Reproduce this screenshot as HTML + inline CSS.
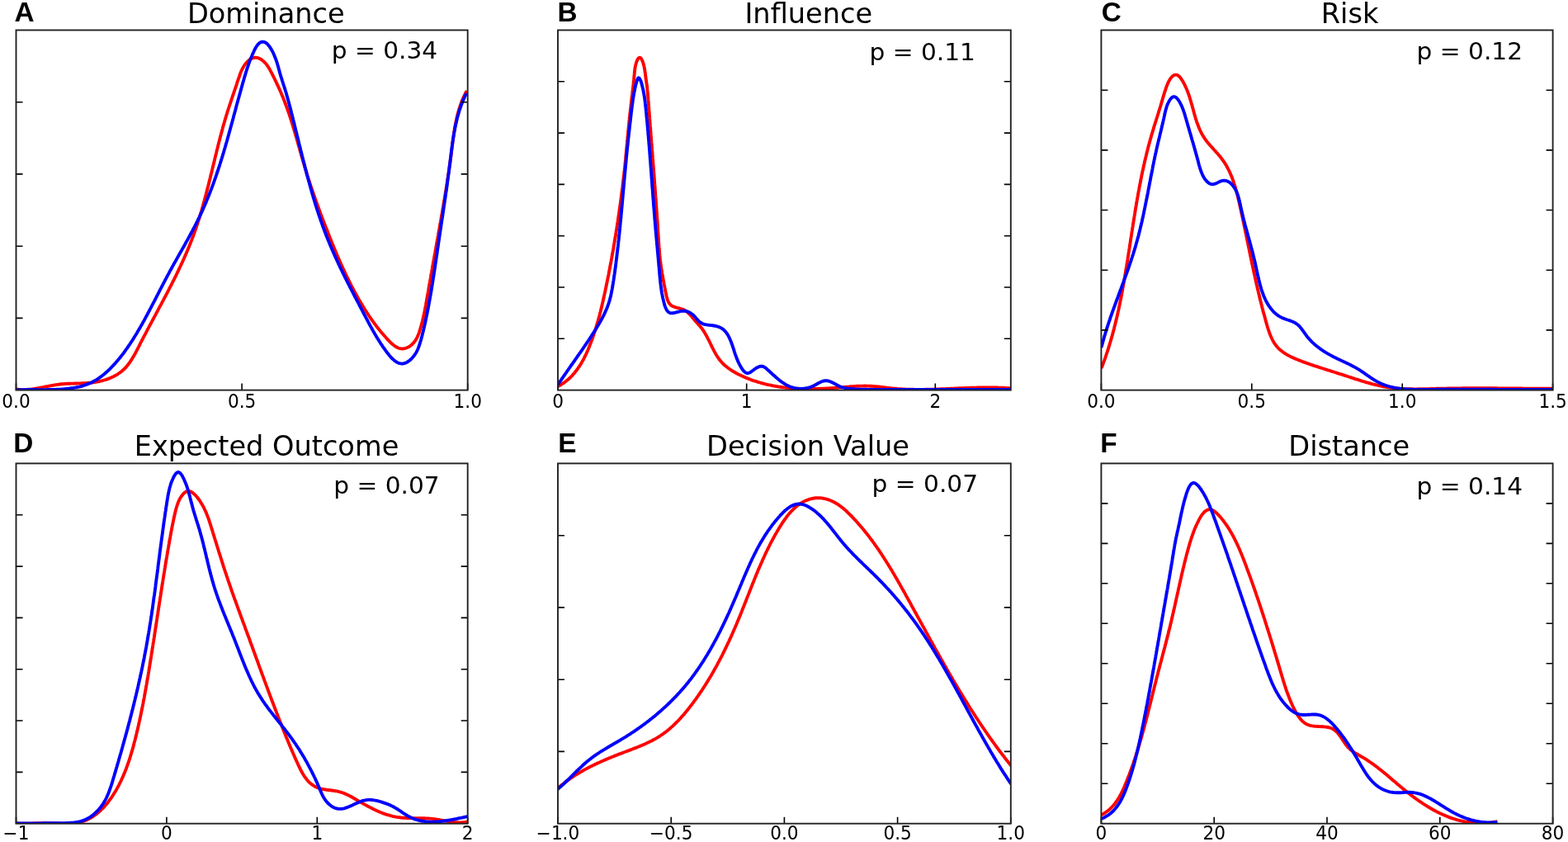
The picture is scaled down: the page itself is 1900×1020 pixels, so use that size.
<!DOCTYPE html><html><head><meta charset="utf-8"><title>Distributions</title><style>html,body{margin:0;padding:0;background:#fff;overflow:hidden}svg{display:block}.t{font-family:'DejaVu Sans','Liberation Sans',sans-serif}.l{font-family:'Liberation Sans',Arial,sans-serif;font-weight:bold}</style></head><body>
<svg width="1900" height="1020" viewBox="0 0 1900 1020">
<rect width="1900" height="1020" fill="#fff"/>
<clipPath id="cA"><rect x="19.5" y="35.5" width="547.2" height="437.1"/></clipPath>
<path d="M19.0,471.5 20.5,471.7 22.0,471.8 23.5,472.0 25.0,472.0 26.5,472.1 28.0,472.1 29.5,472.1 31.0,472.0 32.5,471.9 34.0,471.8 35.5,471.7 37.0,471.6 38.5,471.4 40.0,471.2 41.5,471.0 43.0,470.7 44.4,470.5 45.9,470.2 47.4,470.0 48.9,469.7 50.4,469.4 51.9,469.1 53.3,468.8 54.8,468.5 56.3,468.3 57.8,468.0 59.3,467.7 60.8,467.4 62.2,467.1 63.7,466.8 65.2,466.6 66.7,466.3 68.2,466.1 69.7,465.9 71.1,465.7 72.6,465.5 74.1,465.3 75.6,465.2 77.1,465.1 78.6,465.0 80.1,464.9 81.6,464.8 83.0,464.8 84.5,464.7 86.0,464.6 87.5,464.6 89.0,464.6 90.5,464.5 92.0,464.5 93.5,464.5 95.0,464.4 96.5,464.4 98.0,464.4 99.4,464.3 100.9,464.3 102.4,464.2 103.9,464.1 105.4,464.0 106.9,463.9 108.4,463.8 109.9,463.7 111.4,463.5 112.9,463.3 114.4,463.1 115.9,462.9 117.4,462.6 118.9,462.3 120.3,462.0 121.8,461.7 123.3,461.3 124.8,460.9 126.2,460.5 127.7,460.1 129.1,459.6 130.5,459.1 131.9,458.6 133.3,458.0 134.7,457.4 136.0,456.8 137.4,456.2 138.7,455.5 140.0,454.8 141.3,454.1 142.5,453.3 143.7,452.5 144.9,451.7 146.1,450.8 147.2,449.9 148.3,449.0 149.4,448.0 150.5,447.0 151.5,446.0 152.5,445.0 153.4,443.9 154.3,442.8 155.2,441.6 156.1,440.5 157.0,439.3 157.8,438.1 158.6,436.9 159.4,435.6 160.2,434.4 161.0,433.1 161.8,431.8 162.5,430.5 163.2,429.2 164.0,427.9 164.7,426.5 165.4,425.2 166.1,423.8 166.8,422.5 167.5,421.1 168.2,419.8 168.9,418.4 169.5,417.1 170.2,415.7 170.9,414.4 171.6,413.0 172.3,411.6 173.0,410.3 173.7,408.9 174.4,407.6 175.1,406.3 175.9,404.9 176.6,403.6 177.3,402.2 178.0,400.9 178.7,399.5 179.4,398.2 180.1,396.9 180.8,395.5 181.5,394.2 182.2,392.8 183.0,391.5 183.7,390.2 184.4,388.8 185.1,387.5 185.8,386.2 186.5,384.8 187.2,383.5 188.0,382.2 188.7,380.9 189.4,379.5 190.1,378.2 190.8,376.9 191.5,375.5 192.2,374.2 192.9,372.9 193.6,371.5 194.4,370.2 195.1,368.9 195.8,367.6 196.5,366.2 197.2,364.9 197.9,363.6 198.6,362.2 199.3,360.9 200.0,359.6 200.7,358.3 201.4,356.9 202.1,355.6 202.8,354.3 203.5,352.9 204.2,351.6 204.9,350.3 205.5,348.9 206.2,347.6 206.9,346.3 207.6,344.9 208.3,343.6 208.9,342.3 209.6,340.9 210.3,339.6 211.0,338.3 211.6,336.9 212.3,335.6 213.0,334.3 213.6,332.9 214.3,331.6 214.9,330.2 215.6,328.9 216.2,327.5 216.9,326.2 217.5,324.8 218.1,323.5 218.8,322.1 219.4,320.8 220.0,319.4 220.7,318.1 221.3,316.7 221.9,315.4 222.5,314.0 223.1,312.7 223.7,311.3 224.3,309.9 224.9,308.6 225.5,307.2 226.1,305.8 226.7,304.5 227.3,303.1 227.8,301.7 228.4,300.4 229.0,299.0 229.5,297.6 230.1,296.2 230.7,294.8 231.2,293.4 231.7,292.1 232.3,290.7 232.8,289.3 233.3,287.9 233.9,286.5 234.4,285.1 234.9,283.7 235.4,282.3 235.9,280.9 236.4,279.5 236.9,278.1 237.4,276.7 237.9,275.2 238.3,273.8 238.8,272.4 239.3,271.0 239.7,269.6 240.2,268.1 240.7,266.7 241.1,265.3 241.6,263.9 242.0,262.4 242.4,261.0 242.9,259.6 243.3,258.1 243.7,256.7 244.2,255.3 244.6,253.8 245.0,252.4 245.4,250.9 245.8,249.5 246.2,248.0 246.6,246.6 247.0,245.1 247.4,243.7 247.8,242.2 248.2,240.8 248.6,239.3 249.0,237.9 249.4,236.4 249.8,235.0 250.1,233.5 250.5,232.1 250.9,230.6 251.3,229.1 251.6,227.7 252.0,226.2 252.4,224.8 252.8,223.3 253.1,221.8 253.5,220.4 253.8,218.9 254.2,217.4 254.6,216.0 254.9,214.5 255.3,213.1 255.6,211.6 256.0,210.1 256.4,208.7 256.7,207.2 257.1,205.7 257.4,204.3 257.8,202.8 258.1,201.3 258.5,199.9 258.9,198.4 259.2,196.9 259.6,195.5 259.9,194.0 260.3,192.5 260.6,191.1 261.0,189.6 261.3,188.2 261.7,186.7 262.1,185.2 262.4,183.8 262.8,182.3 263.1,180.9 263.5,179.4 263.9,177.9 264.2,176.5 264.6,175.0 265.0,173.6 265.3,172.1 265.7,170.7 266.1,169.2 266.5,167.8 266.8,166.3 267.2,164.9 267.6,163.4 268.0,162.0 268.4,160.5 268.8,159.1 269.2,157.6 269.6,156.2 269.9,154.8 270.3,153.3 270.7,151.9 271.2,150.4 271.6,149.0 272.0,147.6 272.4,146.1 272.8,144.7 273.2,143.3 273.7,141.9 274.1,140.4 274.5,139.0 275.0,137.6 275.4,136.2 275.8,134.8 276.3,133.4 276.7,132.0 277.2,130.5 277.7,129.1 278.1,127.7 278.6,126.3 279.1,124.9 279.5,123.5 280.0,122.1 280.5,120.7 280.9,119.3 281.4,117.9 281.9,116.4 282.4,115.0 282.9,113.6 283.4,112.2 283.8,110.8 284.3,109.3 284.8,107.9 285.3,106.5 285.8,105.0 286.3,103.6 286.8,102.1 287.2,100.6 287.7,99.2 288.2,97.7 288.7,96.2 289.2,94.8 289.7,93.3 290.2,91.8 290.7,90.3 291.2,88.9 291.8,87.4 292.4,86.0 293.1,84.6 293.8,83.2 294.5,81.8 295.3,80.5 296.1,79.1 297.0,77.9 298.0,76.6 299.0,75.5 300.1,74.4 301.2,73.4 302.3,72.4 303.5,71.6 304.7,71.0 306.0,70.4 307.3,70.0 308.5,69.8 309.8,69.8 311.1,69.9 312.4,70.2 313.7,70.6 315.0,71.2 316.3,71.9 317.5,72.8 318.7,73.7 319.8,74.7 320.9,75.8 322.0,76.9 322.9,78.1 323.9,79.4 324.7,80.7 325.6,82.0 326.4,83.4 327.2,84.8 327.9,86.1 328.7,87.5 329.4,88.9 330.1,90.3 330.8,91.7 331.5,93.1 332.2,94.5 332.9,95.9 333.6,97.3 334.2,98.6 334.9,100.0 335.5,101.4 336.2,102.8 336.8,104.1 337.4,105.5 338.1,106.9 338.7,108.2 339.3,109.6 339.9,111.0 340.5,112.3 341.0,113.7 341.6,115.1 342.2,116.4 342.8,117.8 343.3,119.2 343.9,120.5 344.4,121.9 344.9,123.3 345.5,124.7 346.0,126.0 346.5,127.4 347.0,128.8 347.5,130.2 348.0,131.6 348.5,133.0 349.0,134.4 349.5,135.8 350.0,137.2 350.5,138.6 350.9,140.0 351.4,141.5 351.9,142.9 352.3,144.3 352.8,145.7 353.2,147.1 353.7,148.6 354.1,150.0 354.6,151.4 355.0,152.8 355.4,154.3 355.9,155.7 356.3,157.1 356.7,158.6 357.2,160.0 357.6,161.4 358.0,162.9 358.4,164.3 358.8,165.8 359.3,167.2 359.7,168.7 360.1,170.1 360.5,171.5 360.9,173.0 361.3,174.4 361.7,175.9 362.1,177.3 362.6,178.8 363.0,180.2 363.4,181.7 363.8,183.1 364.2,184.6 364.6,186.0 365.0,187.5 365.4,188.9 365.8,190.4 366.3,191.8 366.7,193.3 367.1,194.7 367.5,196.1 367.9,197.6 368.4,199.0 368.8,200.5 369.2,201.9 369.6,203.4 370.1,204.8 370.5,206.2 371.0,207.7 371.4,209.1 371.8,210.5 372.3,212.0 372.7,213.4 373.2,214.8 373.6,216.3 374.1,217.7 374.6,219.1 375.0,220.5 375.5,222.0 376.0,223.4 376.4,224.8 376.9,226.2 377.4,227.6 377.9,229.1 378.3,230.5 378.8,231.9 379.3,233.3 379.8,234.7 380.3,236.1 380.8,237.6 381.3,239.0 381.8,240.4 382.3,241.8 382.8,243.2 383.3,244.6 383.8,246.0 384.3,247.4 384.8,248.8 385.3,250.2 385.8,251.6 386.4,253.0 386.9,254.4 387.4,255.8 387.9,257.2 388.4,258.6 389.0,260.1 389.5,261.5 390.0,262.9 390.6,264.3 391.1,265.7 391.6,267.0 392.2,268.4 392.7,269.8 393.2,271.2 393.8,272.6 394.3,274.0 394.9,275.4 395.4,276.8 396.0,278.2 396.5,279.6 397.1,281.0 397.6,282.4 398.2,283.8 398.7,285.2 399.3,286.6 399.8,288.0 400.4,289.4 401.0,290.8 401.5,292.2 402.1,293.6 402.6,294.9 403.2,296.3 403.8,297.7 404.4,299.1 404.9,300.5 405.5,301.9 406.1,303.3 406.7,304.7 407.3,306.0 407.8,307.4 408.4,308.8 409.0,310.2 409.6,311.6 410.2,312.9 410.8,314.3 411.4,315.7 412.0,317.1 412.6,318.4 413.2,319.8 413.9,321.2 414.5,322.5 415.1,323.9 415.7,325.3 416.4,326.6 417.0,328.0 417.6,329.4 418.3,330.7 418.9,332.1 419.5,333.4 420.2,334.8 420.9,336.1 421.5,337.5 422.2,338.8 422.8,340.2 423.5,341.5 424.2,342.9 424.9,344.2 425.5,345.5 426.2,346.9 426.9,348.2 427.6,349.5 428.3,350.8 429.0,352.2 429.7,353.5 430.4,354.8 431.2,356.1 431.9,357.4 432.6,358.7 433.3,360.0 434.1,361.4 434.8,362.7 435.6,364.0 436.3,365.3 437.1,366.5 437.8,367.8 438.6,369.1 439.4,370.4 440.2,371.7 441.0,373.0 441.7,374.2 442.5,375.5 443.3,376.8 444.2,378.0 445.0,379.3 445.8,380.5 446.6,381.8 447.4,383.0 448.3,384.3 449.1,385.5 450.0,386.7 450.8,387.9 451.7,389.1 452.6,390.3 453.4,391.5 454.3,392.7 455.2,393.9 456.1,395.1 457.0,396.3 457.9,397.4 458.8,398.6 459.8,399.7 460.7,400.9 461.6,402.0 462.6,403.2 463.6,404.3 464.6,405.5 465.6,406.6 466.6,407.8 467.7,409.0 468.8,410.2 469.9,411.5 471.1,412.7 472.3,413.9 473.5,415.1 474.7,416.2 475.9,417.3 477.2,418.3 478.5,419.3 479.7,420.1 481.1,420.8 482.4,421.5 483.7,421.9 485.0,422.2 486.3,422.4 487.7,422.5 489.0,422.4 490.3,422.1 491.6,421.8 492.9,421.3 494.1,420.8 495.4,420.1 496.6,419.3 497.7,418.5 498.9,417.6 499.9,416.5 501.0,415.5 501.9,414.3 502.8,413.1 503.7,411.8 504.5,410.5 505.2,409.2 505.9,407.8 506.5,406.3 507.1,404.9 507.7,403.4 508.2,401.9 508.7,400.4 509.1,398.9 509.6,397.4 510.0,395.9 510.4,394.4 510.8,392.9 511.2,391.4 511.6,389.9 512.0,388.4 512.3,386.9 512.7,385.4 513.0,384.0 513.3,382.5 513.7,381.0 514.0,379.5 514.3,378.1 514.6,376.6 514.9,375.1 515.2,373.7 515.4,372.2 515.7,370.8 516.0,369.3 516.2,367.9 516.5,366.4 516.8,365.0 517.0,363.5 517.3,362.0 517.5,360.6 517.8,359.1 518.1,357.7 518.3,356.2 518.6,354.8 518.8,353.3 519.1,351.8 519.3,350.4 519.6,348.9 519.8,347.4 520.1,346.0 520.4,344.5 520.6,343.0 520.9,341.6 521.1,340.1 521.4,338.6 521.7,337.1 521.9,335.7 522.2,334.2 522.4,332.7 522.7,331.2 523.0,329.8 523.2,328.3 523.5,326.8 523.8,325.3 524.0,323.9 524.3,322.4 524.5,320.9 524.8,319.4 525.1,317.9 525.3,316.4 525.6,315.0 525.9,313.5 526.1,312.0 526.4,310.5 526.7,309.0 526.9,307.6 527.2,306.1 527.4,304.6 527.7,303.1 528.0,301.6 528.2,300.1 528.5,298.7 528.8,297.2 529.0,295.7 529.3,294.2 529.6,292.7 529.8,291.2 530.1,289.8 530.4,288.3 530.6,286.8 530.9,285.3 531.1,283.8 531.4,282.4 531.7,280.9 531.9,279.4 532.2,277.9 532.5,276.4 532.7,275.0 533.0,273.5 533.2,272.0 533.5,270.5 533.8,269.1 534.0,267.6 534.3,266.1 534.5,264.6 534.8,263.2 535.0,261.7 535.3,260.2 535.6,258.8 535.8,257.3 536.1,255.8 536.3,254.3 536.6,252.9 536.8,251.4 537.1,249.9 537.3,248.5 537.6,247.0 537.8,245.5 538.1,244.0 538.3,242.6 538.6,241.1 538.8,239.6 539.1,238.2 539.3,236.7 539.5,235.2 539.8,233.7 540.0,232.3 540.3,230.8 540.5,229.3 540.7,227.8 541.0,226.4 541.2,224.9 541.4,223.4 541.7,221.9 541.9,220.5 542.1,219.0 542.3,217.5 542.6,216.0 542.8,214.6 543.0,213.1 543.2,211.6 543.5,210.1 543.7,208.6 543.9,207.2 544.1,205.7 544.3,204.2 544.5,202.7 544.7,201.2 544.9,199.7 545.2,198.2 545.4,196.7 545.6,195.3 545.8,193.8 546.0,192.3 546.2,190.8 546.4,189.3 546.5,187.8 546.7,186.3 546.9,184.8 547.1,183.3 547.3,181.8 547.5,180.3 547.7,178.8 547.9,177.3 548.1,175.8 548.3,174.3 548.4,172.8 548.6,171.3 548.8,169.8 549.0,168.3 549.2,166.8 549.5,165.3 549.7,163.8 549.9,162.3 550.1,160.8 550.3,159.3 550.6,157.8 550.8,156.4 551.1,154.9 551.3,153.4 551.6,151.9 551.9,150.5 552.2,149.0 552.5,147.5 552.8,146.1 553.1,144.6 553.4,143.1 553.7,141.7 554.1,140.2 554.5,138.8 554.8,137.4 555.2,135.9 555.6,134.5 556.0,133.1 556.5,131.7 556.9,130.3 557.4,128.8 557.8,127.4 558.3,126.1 558.8,124.7 559.4,123.3 559.9,121.9 560.5,120.6 561.1,119.2 561.7,117.8 562.3,116.5 562.9,115.2 563.6,113.8 564.3,112.5 565.0,111.2 565.7,109.9" fill="none" stroke="#ff0000" stroke-width="3.9" stroke-linejoin="round" stroke-linecap="butt" clip-path="url(#cA)"/>
<path d="M19.0,472.4 20.5,472.3 22.0,472.3 23.5,472.2 25.0,472.2 26.5,472.1 28.0,472.1 29.5,472.1 31.0,472.1 32.5,472.0 34.0,472.0 35.5,472.0 37.0,472.0 38.5,472.0 40.0,472.0 41.5,472.0 43.0,472.0 44.5,472.0 46.0,472.1 47.5,472.1 49.0,472.1 50.5,472.1 52.0,472.1 53.5,472.1 55.0,472.1 56.5,472.1 58.0,472.0 59.5,472.0 60.9,472.0 62.4,472.0 63.9,471.9 65.4,471.9 66.9,471.9 68.5,471.8 70.0,471.7 71.5,471.7 73.0,471.6 74.5,471.5 76.0,471.4 77.5,471.3 79.0,471.1 80.5,471.0 82.0,470.9 83.5,470.7 85.0,470.5 86.5,470.3 88.0,470.1 89.5,469.8 91.0,469.6 92.4,469.3 93.9,469.0 95.4,468.7 96.8,468.3 98.2,468.0 99.7,467.6 101.1,467.1 102.5,466.7 103.9,466.2 105.3,465.7 106.7,465.2 108.0,464.6 109.4,464.0 110.7,463.4 112.0,462.7 113.3,462.0 114.6,461.3 115.9,460.6 117.2,459.8 118.4,459.0 119.6,458.2 120.9,457.3 122.1,456.4 123.3,455.6 124.4,454.6 125.6,453.7 126.8,452.7 127.9,451.8 129.0,450.8 130.2,449.8 131.3,448.7 132.4,447.7 133.5,446.6 134.5,445.5 135.6,444.4 136.6,443.3 137.7,442.2 138.7,441.1 139.7,440.0 140.7,438.8 141.7,437.7 142.7,436.5 143.7,435.4 144.6,434.2 145.6,433.0 146.5,431.8 147.4,430.6 148.4,429.5 149.3,428.3 150.2,427.1 151.1,425.8 151.9,424.6 152.8,423.4 153.7,422.2 154.6,421.0 155.4,419.7 156.2,418.5 157.1,417.3 157.9,416.0 158.7,414.8 159.5,413.5 160.4,412.3 161.2,411.0 162.0,409.8 162.7,408.5 163.5,407.2 164.3,406.0 165.1,404.7 165.9,403.4 166.6,402.1 167.4,400.8 168.1,399.6 168.9,398.3 169.6,397.0 170.4,395.7 171.1,394.4 171.9,393.1 172.6,391.8 173.3,390.5 174.0,389.2 174.8,387.9 175.5,386.6 176.2,385.2 176.9,383.9 177.6,382.6 178.3,381.3 179.0,380.0 179.7,378.7 180.4,377.3 181.1,376.0 181.8,374.7 182.5,373.4 183.2,372.0 183.9,370.7 184.6,369.4 185.3,368.0 186.0,366.7 186.7,365.4 187.4,364.1 188.1,362.7 188.7,361.4 189.4,360.1 190.1,358.7 190.8,357.4 191.5,356.0 192.2,354.7 192.9,353.4 193.5,352.0 194.2,350.7 194.9,349.4 195.6,348.0 196.3,346.7 197.0,345.4 197.7,344.0 198.4,342.7 199.1,341.4 199.8,340.0 200.5,338.7 201.2,337.4 201.9,336.1 202.6,334.7 203.3,333.4 204.0,332.1 204.7,330.8 205.4,329.4 206.1,328.1 206.9,326.8 207.6,325.5 208.3,324.2 209.0,322.9 209.8,321.5 210.5,320.2 211.2,318.9 212.0,317.6 212.7,316.3 213.4,315.0 214.2,313.7 214.9,312.4 215.6,311.1 216.4,309.7 217.1,308.4 217.9,307.1 218.6,305.8 219.3,304.5 220.1,303.2 220.8,301.9 221.6,300.6 222.3,299.3 223.0,298.0 223.8,296.7 224.5,295.3 225.2,294.0 225.9,292.7 226.7,291.4 227.4,290.1 228.1,288.8 228.8,287.5 229.6,286.2 230.3,284.8 231.0,283.5 231.7,282.2 232.4,280.9 233.1,279.6 233.8,278.2 234.5,276.9 235.2,275.6 235.9,274.3 236.6,272.9 237.3,271.6 237.9,270.3 238.6,268.9 239.3,267.6 239.9,266.2 240.6,264.9 241.3,263.6 241.9,262.2 242.6,260.9 243.2,259.5 243.8,258.2 244.5,256.8 245.1,255.4 245.7,254.1 246.3,252.7 246.9,251.3 247.5,250.0 248.1,248.6 248.7,247.2 249.3,245.9 249.9,244.5 250.4,243.1 251.0,241.7 251.6,240.3 252.2,239.0 252.7,237.6 253.3,236.2 253.8,234.8 254.4,233.4 254.9,232.0 255.4,230.6 256.0,229.2 256.5,227.8 257.0,226.4 257.6,225.0 258.1,223.6 258.6,222.2 259.1,220.8 259.6,219.4 260.1,217.9 260.6,216.5 261.1,215.1 261.6,213.7 262.1,212.3 262.6,210.9 263.0,209.4 263.5,208.0 264.0,206.6 264.5,205.2 264.9,203.7 265.4,202.3 265.9,200.9 266.3,199.5 266.8,198.0 267.2,196.6 267.7,195.2 268.1,193.7 268.6,192.3 269.0,190.9 269.5,189.4 269.9,188.0 270.3,186.5 270.8,185.1 271.2,183.7 271.6,182.2 272.0,180.8 272.5,179.3 272.9,177.9 273.3,176.5 273.7,175.0 274.1,173.6 274.6,172.1 275.0,170.7 275.4,169.2 275.8,167.8 276.2,166.3 276.6,164.9 277.0,163.4 277.4,162.0 277.8,160.5 278.2,159.1 278.6,157.6 279.0,156.2 279.4,154.7 279.8,153.3 280.2,151.8 280.6,150.4 281.0,148.9 281.4,147.5 281.8,146.0 282.2,144.6 282.6,143.2 282.9,141.7 283.3,140.3 283.7,138.8 284.1,137.4 284.5,135.9 284.9,134.5 285.3,133.0 285.7,131.6 286.1,130.1 286.4,128.7 286.8,127.2 287.2,125.8 287.6,124.4 288.0,122.9 288.4,121.5 288.8,120.0 289.2,118.6 289.6,117.2 290.0,115.7 290.4,114.3 290.8,112.9 291.2,111.4 291.6,110.0 292.0,108.6 292.4,107.1 292.8,105.7 293.2,104.3 293.6,102.8 294.0,101.4 294.4,100.0 294.8,98.6 295.2,97.2 295.6,95.7 296.0,94.3 296.4,92.9 296.9,91.5 297.3,90.1 297.7,88.7 298.1,87.2 298.6,85.8 299.0,84.4 299.5,83.0 300.0,81.5 300.5,80.1 301.0,78.6 301.5,77.2 302.0,75.7 302.6,74.2 303.1,72.7 303.7,71.3 304.3,69.7 305.0,68.2 305.6,66.7 306.3,65.1 307.0,63.6 307.7,62.0 308.4,60.5 309.2,59.0 310.0,57.5 310.9,56.2 311.7,54.9 312.6,53.8 313.6,52.8 314.5,52.0 315.5,51.3 316.6,50.9 317.6,50.7 318.7,50.6 319.8,50.8 320.9,51.2 321.9,51.7 323.0,52.5 324.0,53.4 325.0,54.5 326.0,55.7 326.9,56.9 327.8,58.3 328.7,59.8 329.5,61.2 330.3,62.7 331.1,64.2 331.8,65.7 332.4,67.2 333.0,68.7 333.6,70.2 334.2,71.7 334.7,73.2 335.2,74.7 335.7,76.1 336.1,77.6 336.6,79.1 337.0,80.6 337.4,82.1 337.8,83.5 338.2,85.0 338.6,86.4 339.0,87.9 339.4,89.3 339.8,90.8 340.2,92.2 340.7,93.6 341.1,95.0 341.6,96.4 342.0,97.8 342.5,99.2 342.9,100.6 343.4,102.0 343.8,103.4 344.3,104.8 344.7,106.2 345.2,107.6 345.6,109.0 346.0,110.4 346.5,111.8 346.9,113.3 347.3,114.7 347.7,116.1 348.1,117.6 348.5,119.0 348.9,120.4 349.3,121.9 349.7,123.3 350.1,124.8 350.5,126.2 350.9,127.7 351.3,129.2 351.6,130.6 352.0,132.1 352.4,133.5 352.8,135.0 353.1,136.5 353.5,137.9 353.9,139.4 354.2,140.8 354.6,142.3 355.0,143.8 355.3,145.2 355.7,146.7 356.1,148.1 356.4,149.6 356.8,151.1 357.1,152.5 357.5,154.0 357.9,155.5 358.2,156.9 358.6,158.4 358.9,159.8 359.3,161.3 359.7,162.8 360.0,164.2 360.4,165.7 360.7,167.1 361.1,168.6 361.5,170.0 361.8,171.5 362.2,173.0 362.5,174.4 362.9,175.9 363.3,177.3 363.6,178.8 364.0,180.2 364.3,181.7 364.7,183.2 365.1,184.6 365.4,186.1 365.8,187.5 366.1,189.0 366.5,190.4 366.9,191.9 367.2,193.3 367.6,194.8 368.0,196.2 368.4,197.7 368.7,199.1 369.1,200.6 369.5,202.0 369.8,203.5 370.2,204.9 370.6,206.4 371.0,207.8 371.4,209.3 371.7,210.7 372.1,212.2 372.5,213.6 372.9,215.1 373.3,216.5 373.7,218.0 374.1,219.4 374.5,220.8 374.9,222.3 375.3,223.7 375.7,225.2 376.1,226.6 376.5,228.0 376.9,229.5 377.3,230.9 377.7,232.3 378.1,233.8 378.5,235.2 379.0,236.7 379.4,238.1 379.8,239.5 380.2,240.9 380.7,242.4 381.1,243.8 381.5,245.2 382.0,246.7 382.4,248.1 382.9,249.5 383.3,250.9 383.8,252.4 384.2,253.8 384.7,255.2 385.2,256.6 385.6,258.1 386.1,259.5 386.6,260.9 387.0,262.3 387.5,263.7 388.0,265.1 388.5,266.6 389.0,268.0 389.5,269.4 390.0,270.8 390.5,272.2 391.0,273.6 391.5,275.0 392.0,276.4 392.5,277.8 393.1,279.2 393.6,280.7 394.1,282.1 394.7,283.5 395.2,284.9 395.8,286.3 396.3,287.7 396.9,289.0 397.4,290.4 398.0,291.8 398.6,293.2 399.1,294.6 399.7,296.0 400.3,297.4 400.9,298.8 401.5,300.2 402.1,301.6 402.7,302.9 403.3,304.3 403.9,305.7 404.5,307.1 405.1,308.5 405.7,309.8 406.3,311.2 407.0,312.6 407.6,314.0 408.2,315.3 408.9,316.7 409.5,318.1 410.1,319.5 410.8,320.8 411.4,322.2 412.1,323.6 412.7,324.9 413.4,326.3 414.1,327.6 414.7,329.0 415.4,330.3 416.0,331.7 416.7,333.1 417.4,334.4 418.0,335.8 418.7,337.1 419.4,338.5 420.1,339.8 420.7,341.2 421.4,342.5 422.1,343.8 422.8,345.2 423.5,346.5 424.1,347.9 424.8,349.2 425.5,350.5 426.2,351.9 426.9,353.2 427.6,354.5 428.3,355.8 428.9,357.2 429.6,358.5 430.3,359.8 431.0,361.1 431.7,362.5 432.4,363.8 433.1,365.1 433.8,366.4 434.5,367.7 435.1,369.0 435.8,370.3 436.5,371.7 437.2,373.0 437.9,374.3 438.6,375.6 439.3,376.9 439.9,378.2 440.6,379.5 441.3,380.8 442.0,382.1 442.7,383.4 443.3,384.6 444.0,385.9 444.7,387.2 445.4,388.5 446.1,389.8 446.8,391.1 447.4,392.4 448.1,393.7 448.8,394.9 449.5,396.2 450.3,397.5 451.0,398.8 451.7,400.1 452.4,401.4 453.2,402.7 453.9,404.0 454.7,405.3 455.4,406.6 456.2,407.9 457.0,409.2 457.8,410.5 458.6,411.8 459.4,413.1 460.3,414.4 461.1,415.8 462.0,417.1 462.9,418.4 463.8,419.8 464.7,421.1 465.7,422.4 466.6,423.8 467.6,425.1 468.6,426.5 469.6,427.8 470.6,429.1 471.7,430.4 472.8,431.7 473.8,432.9 474.9,434.0 476.0,435.1 477.2,436.1 478.3,437.1 479.5,437.9 480.6,438.6 481.8,439.3 483.0,439.8 484.2,440.2 485.4,440.4 486.6,440.6 487.9,440.5 489.1,440.3 490.4,440.0 491.6,439.6 492.8,439.0 494.1,438.3 495.3,437.4 496.5,436.5 497.6,435.5 498.7,434.5 499.8,433.3 500.8,432.1 501.8,430.8 502.7,429.5 503.6,428.2 504.4,426.9 505.1,425.5 505.8,424.1 506.4,422.7 507.0,421.2 507.5,419.8 508.1,418.3 508.5,416.9 509.0,415.4 509.4,413.9 509.9,412.4 510.3,411.0 510.7,409.5 511.1,408.0 511.5,406.5 511.8,405.1 512.2,403.6 512.6,402.2 512.9,400.7 513.3,399.2 513.6,397.8 514.0,396.3 514.3,394.9 514.6,393.4 515.0,392.0 515.3,390.5 515.6,389.1 515.9,387.6 516.2,386.1 516.5,384.7 516.8,383.2 517.1,381.8 517.4,380.3 517.7,378.9 518.0,377.4 518.3,376.0 518.6,374.5 518.8,373.0 519.1,371.6 519.4,370.1 519.7,368.6 519.9,367.2 520.2,365.7 520.5,364.2 520.7,362.8 521.0,361.3 521.2,359.8 521.5,358.4 521.8,356.9 522.0,355.4 522.3,353.9 522.5,352.5 522.8,351.0 523.0,349.5 523.2,348.0 523.5,346.5 523.7,345.1 524.0,343.6 524.2,342.1 524.4,340.6 524.7,339.1 524.9,337.6 525.1,336.2 525.4,334.7 525.6,333.2 525.8,331.7 526.1,330.2 526.3,328.7 526.5,327.2 526.7,325.7 527.0,324.3 527.2,322.8 527.4,321.3 527.6,319.8 527.8,318.3 528.1,316.8 528.3,315.3 528.5,313.8 528.7,312.3 528.9,310.9 529.2,309.4 529.4,307.9 529.6,306.4 529.8,304.9 530.0,303.4 530.2,301.9 530.5,300.4 530.7,298.9 530.9,297.5 531.1,296.0 531.3,294.5 531.5,293.0 531.8,291.5 532.0,290.0 532.2,288.5 532.4,287.1 532.6,285.6 532.9,284.1 533.1,282.6 533.3,281.1 533.5,279.7 533.7,278.2 534.0,276.7 534.2,275.2 534.4,273.7 534.6,272.3 534.8,270.8 535.1,269.3 535.3,267.8 535.5,266.3 535.7,264.9 536.0,263.4 536.2,261.9 536.4,260.4 536.6,259.0 536.8,257.5 537.1,256.0 537.3,254.5 537.5,253.0 537.7,251.6 537.9,250.1 538.2,248.6 538.4,247.1 538.6,245.7 538.8,244.2 539.0,242.7 539.3,241.2 539.5,239.7 539.7,238.3 539.9,236.8 540.1,235.3 540.3,233.8 540.5,232.4 540.8,230.9 541.0,229.4 541.2,227.9 541.4,226.4 541.6,224.9 541.8,223.5 542.0,222.0 542.2,220.5 542.4,219.0 542.6,217.5 542.8,216.0 543.0,214.5 543.2,213.1 543.4,211.6 543.6,210.1 543.8,208.6 544.0,207.1 544.2,205.6 544.4,204.1 544.6,202.6 544.8,201.1 545.0,199.6 545.2,198.1 545.4,196.6 545.5,195.1 545.7,193.6 545.9,192.1 546.1,190.6 546.3,189.1 546.5,187.6 546.7,186.1 546.8,184.6 547.0,183.1 547.2,181.6 547.4,180.1 547.6,178.6 547.8,177.1 548.0,175.6 548.2,174.1 548.4,172.6 548.7,171.1 548.9,169.6 549.1,168.2 549.3,166.7 549.6,165.2 549.8,163.7 550.1,162.2 550.3,160.7 550.6,159.3 550.9,157.8 551.1,156.3 551.4,154.8 551.7,153.4 552.0,151.9 552.3,150.5 552.7,149.0 553.0,147.6 553.3,146.1 553.7,144.7 554.0,143.2 554.4,141.8 554.8,140.4 555.2,138.9 555.6,137.5 556.0,136.1 556.4,134.7 556.9,133.3 557.3,131.9 557.8,130.5 558.3,129.1 558.8,127.7 559.3,126.3 559.8,125.0 560.4,123.6 560.9,122.2 561.5,120.9 562.1,119.5 562.7,118.2 563.3,116.9 564.0,115.5 564.6,114.2 565.3,112.9" fill="none" stroke="#0000ff" stroke-width="3.9" stroke-linejoin="round" stroke-linecap="butt" clip-path="url(#cA)"/>
<path d="M19.5,472.6V464.6M293.1,472.6V464.6M566.7,472.6V464.6M19.5,385.4H27.5M566.7,385.4H558.7M19.5,298.2H27.5M566.7,298.2H558.7M19.5,210.9H27.5M566.7,210.9H558.7M19.5,123.7H27.5M566.7,123.7H558.7" stroke="#000" stroke-width="1.6" fill="none"/>
<rect x="19.5" y="36.5" width="547.2" height="436.1" fill="none" stroke="#222" stroke-width="1.9"/>
<text transform="translate(19.5,493.7) scale(0.965,1)" text-anchor="middle" class="t" font-size="22.4">0.0</text>
<text transform="translate(293.1,493.7) scale(0.965,1)" text-anchor="middle" class="t" font-size="22.4">0.5</text>
<text transform="translate(566.7,493.7) scale(0.965,1)" text-anchor="middle" class="t" font-size="22.4">1.0</text>
<text x="322.3" y="27.8" text-anchor="middle" class="t" font-size="33.6">Dominance</text>
<text transform="translate(401.7,70.8) scale(1.022,1)" class="t" font-size="29.0">p = 0.34</text>
<text x="17.4" y="26.2" class="l" font-weight="bold" font-size="33.3">A</text>
<clipPath id="cB"><rect x="676.0" y="35.5" width="548.8" height="437.1"/></clipPath>
<path d="M675.7,468.3 677.1,467.6 678.5,466.8 679.8,466.0 681.1,465.2 682.4,464.3 683.7,463.4 684.9,462.5 686.1,461.6 687.2,460.6 688.4,459.7 689.5,458.7 690.6,457.7 691.6,456.6 692.7,455.6 693.7,454.5 694.7,453.4 695.7,452.3 696.6,451.1 697.5,450.0 698.5,448.8 699.3,447.6 700.2,446.4 701.0,445.2 701.9,444.0 702.7,442.7 703.5,441.5 704.2,440.2 705.0,438.9 705.7,437.6 706.5,436.3 707.2,435.0 707.8,433.7 708.5,432.3 709.2,431.0 709.8,429.6 710.5,428.3 711.1,426.9 711.7,425.5 712.3,424.2 712.9,422.8 713.5,421.4 714.0,420.0 714.6,418.6 715.1,417.2 715.7,415.8 716.2,414.4 716.7,413.0 717.3,411.5 717.8,410.1 718.3,408.7 718.8,407.3 719.3,405.9 719.7,404.5 720.2,403.0 720.7,401.6 721.1,400.2 721.6,398.8 722.0,397.3 722.5,395.9 722.9,394.5 723.3,393.0 723.8,391.6 724.2,390.2 724.6,388.7 725.0,387.3 725.4,385.8 725.8,384.4 726.2,382.9 726.6,381.5 726.9,380.1 727.3,378.6 727.7,377.2 728.0,375.7 728.4,374.2 728.8,372.8 729.1,371.3 729.5,369.9 729.8,368.4 730.1,367.0 730.5,365.5 730.8,364.1 731.1,362.6 731.5,361.1 731.8,359.7 732.1,358.2 732.4,356.7 732.8,355.3 733.1,353.8 733.4,352.3 733.7,350.9 734.0,349.4 734.3,348.0 734.6,346.5 734.9,345.0 735.2,343.5 735.5,342.1 735.8,340.6 736.1,339.1 736.4,337.7 736.7,336.2 737.0,334.7 737.3,333.3 737.6,331.8 737.8,330.3 738.1,328.9 738.4,327.4 738.7,325.9 739.0,324.4 739.3,323.0 739.5,321.5 739.8,320.0 740.1,318.5 740.4,317.1 740.6,315.6 740.9,314.1 741.2,312.6 741.4,311.2 741.7,309.7 742.0,308.2 742.2,306.7 742.5,305.3 742.8,303.8 743.0,302.3 743.3,300.8 743.5,299.4 743.8,297.9 744.0,296.4 744.3,294.9 744.5,293.5 744.8,292.0 745.0,290.5 745.3,289.0 745.5,287.5 745.8,286.1 746.0,284.6 746.2,283.1 746.5,281.6 746.7,280.1 747.0,278.7 747.2,277.2 747.4,275.7 747.7,274.2 747.9,272.7 748.1,271.3 748.3,269.8 748.6,268.3 748.8,266.8 749.0,265.3 749.2,263.8 749.4,262.4 749.7,260.9 749.9,259.4 750.1,257.9 750.3,256.4 750.5,254.9 750.7,253.5 750.9,252.0 751.1,250.5 751.4,249.0 751.6,247.5 751.8,246.0 752.0,244.6 752.2,243.1 752.4,241.6 752.6,240.1 752.7,238.6 752.9,237.1 753.1,235.6 753.3,234.2 753.5,232.7 753.7,231.2 753.9,229.7 754.1,228.2 754.3,226.7 754.4,225.2 754.6,223.8 754.8,222.3 755.0,220.8 755.1,219.3 755.3,217.8 755.5,216.3 755.7,214.8 755.8,213.3 756.0,211.9 756.2,210.4 756.3,208.9 756.5,207.4 756.7,205.9 756.8,204.4 757.0,202.9 757.1,201.4 757.3,200.0 757.4,198.5 757.6,197.0 757.8,195.5 757.9,194.0 758.1,192.5 758.2,191.0 758.3,189.5 758.5,188.1 758.6,186.6 758.8,185.1 758.9,183.6 759.0,182.1 759.2,180.6 759.3,179.1 759.5,177.6 759.6,176.1 759.7,174.6 759.9,173.2 760.0,171.7 760.1,170.2 760.3,168.7 760.4,167.2 760.5,165.7 760.7,164.2 760.8,162.7 761.0,161.2 761.1,159.7 761.2,158.2 761.4,156.7 761.5,155.2 761.7,153.7 761.8,152.2 762.0,150.7 762.1,149.2 762.3,147.7 762.4,146.2 762.6,144.7 762.7,143.2 762.9,141.7 763.1,140.2 763.2,138.7 763.4,137.2 763.6,135.7 763.7,134.2 763.9,132.7 764.1,131.2 764.3,129.7 764.4,128.2 764.6,126.7 764.8,125.2 764.9,123.8 765.1,122.3 765.3,120.8 765.5,119.3 765.6,117.8 765.8,116.4 766.0,114.9 766.2,113.4 766.3,112.0 766.5,110.5 766.7,109.1 766.8,107.7 767.0,106.2 767.2,104.8 767.3,103.4 767.5,101.9 767.6,100.5 767.8,99.1 767.9,97.6 768.1,96.2 768.2,94.7 768.4,93.1 768.5,91.5 768.7,89.9 768.8,88.2 769.0,86.4 769.2,84.7 769.4,82.9 769.7,81.2 770.1,79.4 770.5,77.7 771.0,76.0 771.5,74.4 772.2,72.9 772.8,71.7 773.5,70.7 774.2,70.1 774.9,69.8 775.7,69.9 776.4,70.4 777.1,71.2 777.7,72.4 778.4,73.7 779.0,75.2 779.5,76.9 780.0,78.6 780.4,80.4 780.8,82.1 781.1,83.9 781.4,85.7 781.6,87.4 781.9,89.1 782.1,90.8 782.3,92.4 782.5,93.9 782.7,95.4 782.9,96.9 783.1,98.3 783.3,99.7 783.5,101.1 783.7,102.5 783.9,103.9 784.1,105.3 784.2,106.8 784.4,108.2 784.5,109.7 784.7,111.1 784.8,112.6 784.9,114.1 785.1,115.5 785.2,117.0 785.3,118.5 785.4,120.0 785.5,121.5 785.7,123.0 785.8,124.5 785.9,126.0 786.0,127.5 786.1,129.0 786.2,130.5 786.3,132.0 786.4,133.5 786.6,135.0 786.7,136.5 786.8,138.0 786.9,139.5 787.0,141.0 787.1,142.5 787.2,144.0 787.4,145.5 787.5,147.0 787.6,148.5 787.7,150.0 787.8,151.5 787.9,153.0 788.1,154.5 788.2,156.0 788.3,157.5 788.4,159.0 788.5,160.5 788.6,162.0 788.7,163.5 788.9,165.0 789.0,166.5 789.1,168.0 789.2,169.5 789.3,171.0 789.4,172.5 789.6,174.0 789.7,175.5 789.8,177.0 789.9,178.5 790.0,180.0 790.1,181.4 790.3,182.9 790.4,184.4 790.5,185.9 790.6,187.4 790.7,188.9 790.8,190.4 790.9,191.9 791.1,193.4 791.2,194.9 791.3,196.4 791.4,197.9 791.5,199.4 791.6,200.9 791.8,202.3 791.9,203.8 792.0,205.3 792.1,206.8 792.2,208.3 792.3,209.8 792.4,211.3 792.6,212.8 792.7,214.3 792.8,215.8 792.9,217.3 793.0,218.8 793.1,220.2 793.2,221.7 793.3,223.2 793.5,224.7 793.6,226.2 793.7,227.7 793.8,229.2 793.9,230.7 794.0,232.2 794.1,233.7 794.2,235.2 794.3,236.7 794.4,238.2 794.6,239.6 794.7,241.1 794.8,242.6 794.9,244.1 795.0,245.6 795.1,247.1 795.2,248.6 795.3,250.1 795.4,251.6 795.5,253.1 795.6,254.6 795.7,256.1 795.8,257.6 795.9,259.1 796.0,260.6 796.1,262.1 796.2,263.6 796.3,265.1 796.5,266.5 796.6,268.0 796.7,269.5 796.8,271.0 796.9,272.5 797.0,274.0 797.1,275.5 797.1,277.0 797.2,278.5 797.3,280.0 797.4,281.5 797.5,283.0 797.6,284.5 797.7,286.0 797.8,287.5 797.9,289.0 798.0,290.5 798.1,292.0 798.2,293.5 798.3,295.0 798.4,296.5 798.5,298.0 798.6,299.5 798.8,301.0 798.9,302.5 799.0,304.0 799.1,305.5 799.2,307.0 799.4,308.5 799.5,310.0 799.7,311.5 799.8,312.9 800.0,314.4 800.1,315.9 800.3,317.4 800.5,318.9 800.7,320.3 800.9,321.8 801.1,323.3 801.3,324.7 801.5,326.2 801.7,327.7 802.0,329.1 802.2,330.6 802.5,332.1 802.7,333.5 803.0,335.0 803.2,336.5 803.5,337.9 803.8,339.4 804.1,340.9 804.4,342.4 804.6,343.8 804.9,345.3 805.2,346.8 805.5,348.3 805.8,349.8 806.1,351.4 806.4,352.9 806.7,354.4 807.1,356.0 807.4,357.5 807.7,359.0 808.1,360.5 808.5,362.0 808.9,363.4 809.5,364.8 810.1,366.1 810.8,367.2 811.6,368.3 812.5,369.3 813.6,370.1 814.7,370.8 816.0,371.4 817.4,371.9 818.9,372.4 820.4,372.8 821.9,373.1 823.5,373.5 825.0,374.0 826.4,374.4 827.9,375.0 829.2,375.6 830.5,376.4 831.7,377.2 832.8,378.1 833.9,379.1 835.0,380.1 836.0,381.1 837.0,382.2 838.0,383.3 838.9,384.5 839.9,385.6 840.9,386.8 841.8,388.0 842.8,389.1 843.8,390.2 844.8,391.3 845.8,392.5 846.8,393.6 847.8,394.7 848.7,395.9 849.7,397.0 850.6,398.2 851.5,399.4 852.3,400.6 853.2,401.9 854.0,403.2 854.7,404.4 855.5,405.8 856.2,407.1 856.9,408.4 857.6,409.8 858.3,411.1 859.0,412.5 859.7,413.9 860.4,415.2 861.0,416.6 861.7,418.0 862.3,419.4 863.0,420.7 863.7,422.1 864.4,423.4 865.1,424.8 865.8,426.1 866.5,427.4 867.2,428.7 868.0,430.0 868.8,431.3 869.6,432.5 870.4,433.7 871.3,434.9 872.1,436.1 873.1,437.2 874.0,438.3 875.0,439.4 876.0,440.5 877.1,441.5 878.2,442.5 879.3,443.4 880.4,444.4 881.6,445.3 882.8,446.2 884.0,447.0 885.2,447.9 886.4,448.7 887.7,449.5 889.0,450.3 890.3,451.0 891.6,451.7 892.9,452.5 894.3,453.2 895.6,453.8 897.0,454.5 898.3,455.1 899.7,455.8 901.1,456.4 902.5,457.0 903.8,457.6 905.2,458.1 906.6,458.7 908.0,459.2 909.4,459.8 910.8,460.3 912.2,460.8 913.7,461.3 915.1,461.7 916.5,462.2 917.9,462.7 919.4,463.1 920.8,463.5 922.2,463.9 923.7,464.3 925.1,464.7 926.6,465.1 928.0,465.4 929.5,465.8 930.9,466.1 932.4,466.4 933.8,466.7 935.3,467.0 936.8,467.3 938.2,467.6 939.7,467.8 941.2,468.1 942.6,468.3 944.1,468.6 945.6,468.8 947.1,469.0 948.6,469.2 950.0,469.4 951.5,469.5 953.0,469.7 954.5,469.9 956.0,470.0 957.5,470.1 958.9,470.3 960.4,470.4 961.9,470.5 963.4,470.6 964.9,470.7 966.4,470.7 967.9,470.8 969.4,470.9 970.9,470.9 972.4,471.0 973.9,471.0 975.4,471.0 976.9,471.1 978.4,471.1 979.9,471.1 981.4,471.1 982.9,471.1 984.4,471.1 985.9,471.0 987.4,471.0 988.9,471.0 990.4,470.9 991.9,470.9 993.4,470.9 994.9,470.8 996.4,470.7 997.9,470.7 999.4,470.6 1000.9,470.5 1002.4,470.4 1003.9,470.4 1005.4,470.3 1006.9,470.2 1008.4,470.1 1009.9,470.0 1011.4,469.9 1012.9,469.8 1014.4,469.7 1015.9,469.5 1017.3,469.4 1018.8,469.3 1020.3,469.2 1021.8,469.0 1023.3,468.9 1024.8,468.8 1026.3,468.7 1027.8,468.6 1029.3,468.4 1030.7,468.3 1032.2,468.2 1033.7,468.1 1035.2,468.0 1036.7,467.9 1038.2,467.8 1039.7,467.8 1041.1,467.7 1042.6,467.6 1044.1,467.6 1045.6,467.6 1047.1,467.5 1048.6,467.5 1050.0,467.6 1051.5,467.6 1053.0,467.6 1054.5,467.7 1056.0,467.8 1057.5,467.9 1059.0,468.0 1060.4,468.1 1061.9,468.2 1063.4,468.4 1064.9,468.5 1066.4,468.7 1067.9,468.9 1069.4,469.1 1070.9,469.2 1072.4,469.4 1073.8,469.6 1075.3,469.8 1076.8,469.9 1078.3,470.1 1079.8,470.3 1081.3,470.4 1082.8,470.6 1084.3,470.7 1085.8,470.8 1087.3,471.0 1088.8,471.1 1090.3,471.2 1091.8,471.3 1093.2,471.4 1094.7,471.4 1096.2,471.5 1097.7,471.6 1099.2,471.6 1100.7,471.7 1102.2,471.7 1103.7,471.8 1105.2,471.8 1106.7,471.8 1108.2,471.9 1109.7,471.9 1111.2,471.9 1112.7,471.9 1114.2,471.9 1115.7,471.9 1117.2,471.9 1118.7,471.9 1120.2,471.9 1121.7,471.8 1123.2,471.8 1124.7,471.8 1126.2,471.8 1127.7,471.7 1129.2,471.7 1130.7,471.6 1132.2,471.6 1133.7,471.5 1135.2,471.5 1136.7,471.4 1138.2,471.4 1139.7,471.3 1141.2,471.3 1142.7,471.2 1144.2,471.1 1145.7,471.1 1147.2,471.0 1148.7,470.9 1150.2,470.9 1151.7,470.8 1153.1,470.7 1154.6,470.7 1156.1,470.6 1157.6,470.5 1159.1,470.5 1160.6,470.4 1162.1,470.3 1163.6,470.3 1165.1,470.2 1166.6,470.1 1168.1,470.1 1169.6,470.0 1171.1,470.0 1172.6,469.9 1174.1,469.9 1175.6,469.8 1177.1,469.7 1178.6,469.7 1180.1,469.7 1181.6,469.6 1183.1,469.6 1184.6,469.5 1186.1,469.5 1187.6,469.5 1189.1,469.4 1190.6,469.4 1192.1,469.4 1193.6,469.4 1195.1,469.4 1196.6,469.4 1198.1,469.4 1199.6,469.4 1201.1,469.4 1202.6,469.4 1204.1,469.4 1205.6,469.5 1207.1,469.5 1208.5,469.5 1210.0,469.6 1211.5,469.6 1213.0,469.7 1214.5,469.8 1216.0,469.8 1217.5,469.9 1219.0,470.0 1220.5,470.1 1222.0,470.2 1223.5,470.3 1225.0,470.4" fill="none" stroke="#ff0000" stroke-width="3.9" stroke-linejoin="round" stroke-linecap="butt" clip-path="url(#cB)"/>
<path d="M675.9,466.2 676.8,464.9 677.6,463.7 678.5,462.4 679.3,461.2 680.2,460.0 681.0,458.7 681.9,457.5 682.7,456.2 683.6,455.0 684.4,453.8 685.3,452.5 686.1,451.3 687.0,450.1 687.8,448.8 688.7,447.6 689.5,446.4 690.4,445.2 691.3,443.9 692.1,442.7 693.0,441.5 693.8,440.3 694.7,439.0 695.6,437.8 696.4,436.6 697.3,435.4 698.1,434.1 699.0,432.9 699.8,431.7 700.7,430.5 701.6,429.2 702.4,428.0 703.3,426.8 704.1,425.6 705.0,424.3 705.8,423.1 706.7,421.9 707.5,420.6 708.4,419.4 709.2,418.2 710.0,416.9 710.9,415.7 711.7,414.4 712.6,413.2 713.4,412.0 714.2,410.7 715.0,409.5 715.9,408.2 716.7,406.9 717.5,405.7 718.3,404.4 719.1,403.2 719.9,401.9 720.8,400.6 721.6,399.4 722.4,398.1 723.1,396.8 723.9,395.5 724.7,394.2 725.5,392.9 726.2,391.6 727.0,390.3 727.7,389.0 728.5,387.7 729.2,386.4 729.9,385.1 730.6,383.7 731.3,382.4 731.9,381.1 732.6,379.7 733.2,378.4 733.8,377.0 734.4,375.6 735.0,374.3 735.6,372.9 736.1,371.5 736.6,370.1 737.1,368.7 737.6,367.3 738.0,365.9 738.5,364.5 738.9,363.0 739.2,361.6 739.6,360.2 740.0,358.7 740.3,357.3 740.6,355.8 740.9,354.3 741.2,352.9 741.5,351.4 741.8,349.9 742.0,348.5 742.3,347.0 742.5,345.5 742.8,344.0 743.0,342.5 743.2,341.0 743.5,339.6 743.7,338.1 743.9,336.6 744.1,335.1 744.3,333.6 744.6,332.1 744.8,330.6 745.0,329.2 745.2,327.7 745.4,326.2 745.6,324.7 745.8,323.2 746.0,321.7 746.2,320.2 746.4,318.7 746.5,317.3 746.7,315.8 746.9,314.3 747.1,312.8 747.3,311.3 747.5,309.8 747.6,308.3 747.8,306.8 748.0,305.3 748.2,303.8 748.3,302.4 748.5,300.9 748.7,299.4 748.9,297.9 749.0,296.4 749.2,294.9 749.3,293.4 749.5,291.9 749.7,290.4 749.8,288.9 750.0,287.4 750.1,286.0 750.3,284.5 750.5,283.0 750.6,281.5 750.8,280.0 750.9,278.5 751.1,277.0 751.2,275.5 751.4,274.0 751.5,272.5 751.6,271.0 751.8,269.5 751.9,268.1 752.1,266.6 752.2,265.1 752.4,263.6 752.5,262.1 752.6,260.6 752.8,259.1 752.9,257.6 753.1,256.1 753.2,254.6 753.3,253.1 753.5,251.6 753.6,250.2 753.7,248.7 753.9,247.2 754.0,245.7 754.1,244.2 754.3,242.7 754.4,241.2 754.5,239.7 754.7,238.2 754.8,236.7 754.9,235.2 755.1,233.7 755.2,232.3 755.3,230.8 755.5,229.3 755.6,227.8 755.7,226.3 755.9,224.8 756.0,223.3 756.1,221.8 756.3,220.3 756.4,218.8 756.5,217.3 756.7,215.9 756.8,214.4 756.9,212.9 757.1,211.4 757.2,209.9 757.4,208.4 757.5,206.9 757.6,205.4 757.8,203.9 757.9,202.5 758.0,201.0 758.2,199.5 758.3,198.0 758.5,196.5 758.6,195.0 758.8,193.5 758.9,192.0 759.0,190.6 759.2,189.1 759.3,187.6 759.5,186.1 759.6,184.6 759.8,183.1 759.9,181.6 760.1,180.1 760.2,178.7 760.4,177.2 760.6,175.7 760.7,174.2 760.9,172.7 761.0,171.2 761.2,169.7 761.3,168.2 761.5,166.7 761.7,165.3 761.8,163.8 762.0,162.3 762.2,160.8 762.3,159.3 762.5,157.8 762.7,156.3 762.8,154.8 763.0,153.3 763.2,151.7 763.3,150.2 763.5,148.7 763.7,147.2 763.9,145.7 764.0,144.2 764.2,142.7 764.4,141.1 764.6,139.6 764.7,138.1 764.9,136.6 765.1,135.1 765.3,133.6 765.5,132.1 765.6,130.6 765.8,129.2 766.0,127.7 766.2,126.3 766.4,124.9 766.6,123.6 766.7,122.2 766.9,120.9 767.1,119.5 767.3,118.2 767.6,116.8 767.8,115.4 768.1,113.9 768.3,112.4 768.7,110.8 769.0,109.1 769.4,107.3 769.8,105.4 770.2,103.5 770.7,101.5 771.2,99.7 771.7,98.0 772.2,96.6 772.8,95.4 773.3,94.6 773.9,94.3 774.5,94.5 775.0,95.1 775.6,96.2 776.2,97.5 776.7,98.9 777.2,100.5 777.7,102.1 778.1,103.8 778.5,105.5 778.9,107.1 779.3,108.8 779.6,110.4 779.9,112.0 780.2,113.5 780.5,115.1 780.7,116.7 781.0,118.2 781.2,119.7 781.4,121.2 781.6,122.7 781.8,124.2 781.9,125.7 782.1,127.2 782.3,128.7 782.4,130.1 782.6,131.6 782.7,133.1 782.9,134.6 783.0,136.0 783.2,137.5 783.3,139.0 783.4,140.5 783.6,141.9 783.7,143.4 783.9,144.9 784.0,146.4 784.1,147.8 784.3,149.3 784.4,150.8 784.5,152.3 784.7,153.8 784.8,155.2 784.9,156.7 785.1,158.2 785.2,159.7 785.3,161.2 785.4,162.7 785.6,164.1 785.7,165.6 785.8,167.1 785.9,168.6 786.1,170.1 786.2,171.6 786.3,173.1 786.4,174.6 786.6,176.0 786.7,177.5 786.8,179.0 786.9,180.5 787.0,182.0 787.2,183.5 787.3,185.0 787.4,186.5 787.5,188.0 787.6,189.4 787.7,190.9 787.8,192.4 788.0,193.9 788.1,195.4 788.2,196.9 788.3,198.4 788.4,199.9 788.5,201.4 788.6,202.9 788.8,204.4 788.9,205.9 789.0,207.4 789.1,208.9 789.2,210.4 789.3,211.9 789.4,213.4 789.5,214.9 789.6,216.3 789.8,217.8 789.9,219.3 790.0,220.8 790.1,222.3 790.2,223.8 790.3,225.3 790.4,226.8 790.5,228.3 790.7,229.8 790.8,231.3 790.9,232.8 791.0,234.3 791.1,235.8 791.2,237.3 791.3,238.8 791.4,240.3 791.6,241.8 791.7,243.3 791.8,244.8 791.9,246.3 792.0,247.8 792.1,249.3 792.2,250.8 792.4,252.3 792.5,253.8 792.6,255.3 792.7,256.8 792.8,258.3 793.0,259.8 793.1,261.3 793.2,262.8 793.3,264.3 793.4,265.8 793.6,267.3 793.7,268.8 793.8,270.3 793.9,271.8 794.1,273.3 794.2,274.8 794.3,276.3 794.4,277.8 794.6,279.3 794.7,280.8 794.8,282.3 795.0,283.8 795.1,285.3 795.2,286.7 795.4,288.2 795.5,289.7 795.6,291.2 795.8,292.7 795.9,294.2 796.0,295.7 796.2,297.2 796.3,298.7 796.5,300.2 796.6,301.7 796.7,303.2 796.9,304.7 797.0,306.2 797.1,307.6 797.3,309.1 797.4,310.6 797.5,312.1 797.7,313.6 797.8,315.1 797.9,316.5 798.1,318.0 798.2,319.5 798.3,321.0 798.5,322.4 798.6,323.9 798.7,325.4 798.8,326.9 799.0,328.3 799.1,329.8 799.2,331.3 799.3,332.7 799.5,334.2 799.6,335.7 799.7,337.1 799.9,338.6 800.0,340.1 800.2,341.6 800.3,343.0 800.5,344.5 800.7,346.0 800.9,347.5 801.1,349.0 801.3,350.5 801.5,352.0 801.8,353.5 802.0,355.1 802.3,356.6 802.6,358.1 802.9,359.7 803.2,361.2 803.6,362.8 804.0,364.4 804.4,366.0 804.8,367.6 805.2,369.2 805.7,370.7 806.3,372.2 806.9,373.6 807.5,375.0 808.3,376.2 809.1,377.2 810.0,378.1 811.0,378.7 812.1,379.2 813.4,379.4 814.7,379.3 816.1,379.2 817.6,378.8 819.2,378.4 820.8,378.0 822.4,377.6 824.0,377.2 825.6,376.9 827.1,376.7 828.6,376.7 830.1,376.8 831.6,377.0 832.9,377.4 834.3,377.9 835.6,378.6 836.9,379.3 838.1,380.2 839.3,381.1 840.5,382.1 841.6,383.3 842.7,384.5 843.7,385.7 844.8,386.9 845.9,388.1 847.0,389.2 848.2,390.2 849.4,391.0 850.6,391.7 851.9,392.3 853.3,392.8 854.7,393.1 856.1,393.4 857.6,393.6 859.0,393.8 860.5,393.9 861.9,394.1 863.4,394.3 864.8,394.5 866.2,394.7 867.6,395.0 868.9,395.4 870.2,395.8 871.5,396.3 872.7,396.8 873.9,397.4 875.1,398.1 876.2,398.9 877.2,399.8 878.2,400.8 879.1,401.8 880.0,402.9 880.9,404.1 881.7,405.3 882.4,406.6 883.2,408.0 883.8,409.4 884.5,410.8 885.1,412.3 885.7,413.7 886.3,415.2 886.8,416.8 887.4,418.3 887.9,419.8 888.4,421.3 888.9,422.8 889.4,424.3 889.8,425.8 890.3,427.2 890.7,428.6 891.2,430.0 891.7,431.3 892.2,432.7 892.7,434.0 893.2,435.3 893.7,436.6 894.3,437.9 894.9,439.2 895.6,440.6 896.3,441.9 897.0,443.3 897.9,444.8 898.7,446.2 899.6,447.5 900.6,448.8 901.6,449.9 902.7,450.9 903.8,451.6 905.0,452.0 906.2,452.1 907.4,451.8 908.7,451.2 910.0,450.5 911.3,449.5 912.7,448.5 914.0,447.5 915.4,446.5 916.8,445.6 918.2,444.9 919.6,444.2 921.0,443.8 922.3,443.6 923.6,443.7 924.9,444.1 926.1,444.7 927.3,445.4 928.5,446.3 929.6,447.4 930.8,448.4 931.9,449.5 933.1,450.5 934.2,451.6 935.4,452.7 936.5,453.7 937.7,454.7 938.8,455.8 940.0,456.8 941.1,457.8 942.3,458.8 943.4,459.7 944.6,460.7 945.8,461.6 947.0,462.5 948.2,463.3 949.4,464.1 950.6,464.9 951.8,465.7 953.1,466.4 954.4,467.0 955.6,467.7 956.9,468.2 958.3,468.8 959.6,469.2 961.0,469.7 962.4,470.0 963.8,470.3 965.2,470.6 966.7,470.8 968.2,470.9 969.7,471.0 971.2,470.9 972.7,470.9 974.2,470.7 975.8,470.5 977.3,470.3 978.8,469.9 980.3,469.5 981.8,469.1 983.2,468.5 984.7,467.9 986.1,467.2 987.5,466.5 988.9,465.8 990.2,465.0 991.5,464.3 992.9,463.6 994.2,462.9 995.5,462.3 996.8,461.8 998.1,461.5 999.4,461.2 1000.7,461.1 1002.1,461.2 1003.4,461.4 1004.8,461.8 1006.1,462.3 1007.5,462.9 1008.9,463.6 1010.3,464.3 1011.7,465.0 1013.1,465.8 1014.5,466.6 1015.9,467.3 1017.3,468.0 1018.7,468.6 1020.2,469.1 1021.6,469.5 1023.1,469.9 1024.5,470.2 1026.0,470.5 1027.4,470.7 1028.9,470.9 1030.3,471.0 1031.8,471.2 1033.3,471.3 1034.8,471.4 1036.2,471.4 1037.7,471.5 1039.2,471.6 1040.7,471.6 1042.2,471.7 1043.7,471.7 1045.2,471.8 1046.7,471.8 1048.2,471.8 1049.7,471.8 1051.2,471.9 1052.7,471.9 1054.2,471.9 1055.7,471.9 1057.2,471.9 1058.7,471.9 1060.2,471.9 1061.7,471.9 1063.2,471.9 1064.7,471.9 1066.2,471.9 1067.7,471.9 1069.2,471.9 1070.7,471.9 1072.2,471.9 1073.7,471.9 1075.2,471.9 1076.7,471.9 1078.2,471.9 1079.7,471.9 1081.2,471.9 1082.7,471.9 1084.2,471.9 1085.7,471.9 1087.2,471.9 1088.7,471.9 1090.2,471.9 1091.7,471.9 1093.2,471.9 1094.7,471.9 1096.2,471.9 1097.7,471.9 1099.2,471.9 1100.7,471.9 1102.2,471.9 1103.7,471.9 1105.2,471.9 1106.7,471.9 1108.2,471.9 1109.7,471.9 1111.2,471.9 1112.7,471.9 1114.2,471.9 1115.7,471.9 1117.2,471.9 1118.7,471.9 1120.1,471.9 1121.6,471.9 1123.1,471.9 1124.6,471.9 1126.1,471.9 1127.6,471.9 1129.1,471.9 1130.6,471.9 1132.1,471.9 1133.6,471.9 1135.1,471.9 1136.6,471.9 1138.1,471.9 1139.6,471.9 1141.1,471.9 1142.6,471.9 1144.1,471.9 1145.6,471.9 1147.1,471.9 1148.6,471.9 1150.1,471.9 1151.6,471.9 1153.1,471.9 1154.6,471.9 1156.1,471.9 1157.6,471.9 1159.1,471.9 1160.6,471.9 1162.1,471.9 1163.6,471.9 1165.1,471.9 1166.5,471.9 1168.0,471.9 1169.5,471.9 1171.0,471.9 1172.5,471.9 1174.0,471.9 1175.5,471.9 1177.0,471.9 1178.5,471.9 1180.0,471.9 1181.5,471.9 1183.0,471.9 1184.5,471.9 1186.0,471.9 1187.5,471.9 1189.0,471.9 1190.5,471.9 1192.0,471.9 1193.5,471.9 1195.0,471.9 1196.5,471.9 1198.0,471.9 1199.5,471.9 1201.0,471.9 1202.5,471.9 1204.0,471.9 1205.5,471.9 1207.0,471.9 1208.5,471.9 1210.0,471.9 1211.5,471.9 1213.0,471.9 1214.5,471.9 1216.0,471.9 1217.5,471.9 1219.0,471.9 1220.5,471.9 1222.0,471.9 1223.5,471.9 1225.0,471.9" fill="none" stroke="#0000ff" stroke-width="3.9" stroke-linejoin="round" stroke-linecap="butt" clip-path="url(#cB)"/>
<path d="M676.0,472.6V464.6M904.7,472.6V464.6M1133.3,472.6V464.6M676.0,410.3H684.0M1224.8,410.3H1216.8M676.0,348.0H684.0M1224.8,348.0H1216.8M676.0,285.7H684.0M1224.8,285.7H1216.8M676.0,223.4H684.0M1224.8,223.4H1216.8M676.0,161.1H684.0M1224.8,161.1H1216.8M676.0,98.8H684.0M1224.8,98.8H1216.8" stroke="#000" stroke-width="1.6" fill="none"/>
<rect x="676.0" y="36.5" width="548.8" height="436.1" fill="none" stroke="#222" stroke-width="1.9"/>
<text transform="translate(676.0,493.7) scale(0.965,1)" text-anchor="middle" class="t" font-size="22.4">0</text>
<text transform="translate(904.7,493.7) scale(0.965,1)" text-anchor="middle" class="t" font-size="22.4">1</text>
<text transform="translate(1133.3,493.7) scale(0.965,1)" text-anchor="middle" class="t" font-size="22.4">2</text>
<text x="979.8" y="27.8" text-anchor="middle" class="t" font-size="33.6">Influence</text>
<text transform="translate(1053.5,73.3) scale(1.022,1)" class="t" font-size="29.0">p = 0.11</text>
<text x="675.4" y="26.2" class="l" font-weight="bold" font-size="33.3">B</text>
<clipPath id="cC"><rect x="1334.4" y="35.5" width="547.2" height="437.1"/></clipPath>
<path d="M1334.6,446.1 1335.1,444.7 1335.7,443.3 1336.2,441.9 1336.7,440.5 1337.2,439.0 1337.8,437.6 1338.3,436.2 1338.8,434.8 1339.3,433.4 1339.8,432.0 1340.3,430.6 1340.7,429.1 1341.2,427.7 1341.7,426.3 1342.2,424.9 1342.6,423.4 1343.1,422.0 1343.5,420.6 1344.0,419.2 1344.4,417.7 1344.8,416.3 1345.3,414.9 1345.7,413.4 1346.1,412.0 1346.5,410.5 1346.9,409.1 1347.4,407.7 1347.8,406.2 1348.2,404.8 1348.5,403.3 1348.9,401.9 1349.3,400.4 1349.7,399.0 1350.1,397.5 1350.4,396.1 1350.8,394.6 1351.2,393.2 1351.5,391.7 1351.9,390.3 1352.2,388.8 1352.6,387.4 1352.9,385.9 1353.3,384.4 1353.6,383.0 1354.0,381.5 1354.3,380.1 1354.6,378.6 1354.9,377.1 1355.3,375.7 1355.6,374.2 1355.9,372.7 1356.2,371.3 1356.5,369.8 1356.8,368.3 1357.1,366.9 1357.4,365.4 1357.7,363.9 1358.0,362.5 1358.3,361.0 1358.6,359.5 1358.9,358.0 1359.1,356.6 1359.4,355.1 1359.7,353.6 1360.0,352.1 1360.2,350.7 1360.5,349.2 1360.8,347.7 1361.0,346.2 1361.3,344.8 1361.6,343.3 1361.8,341.8 1362.1,340.3 1362.3,338.8 1362.6,337.4 1362.9,335.9 1363.1,334.4 1363.4,332.9 1363.6,331.4 1363.9,330.0 1364.1,328.5 1364.3,327.0 1364.6,325.5 1364.8,324.0 1365.1,322.6 1365.3,321.1 1365.5,319.6 1365.8,318.1 1366.0,316.6 1366.3,315.1 1366.5,313.7 1366.7,312.2 1367.0,310.7 1367.2,309.2 1367.4,307.7 1367.6,306.2 1367.9,304.8 1368.1,303.3 1368.3,301.8 1368.6,300.3 1368.8,298.8 1369.0,297.3 1369.3,295.9 1369.5,294.4 1369.7,292.9 1369.9,291.4 1370.2,289.9 1370.4,288.4 1370.6,287.0 1370.9,285.5 1371.1,284.0 1371.3,282.5 1371.5,281.0 1371.8,279.6 1372.0,278.1 1372.2,276.6 1372.5,275.1 1372.7,273.6 1372.9,272.1 1373.2,270.7 1373.4,269.2 1373.6,267.7 1373.9,266.2 1374.1,264.7 1374.3,263.3 1374.6,261.8 1374.8,260.3 1375.1,258.8 1375.3,257.3 1375.5,255.9 1375.8,254.4 1376.0,252.9 1376.3,251.4 1376.5,249.9 1376.8,248.5 1377.0,247.0 1377.3,245.5 1377.5,244.0 1377.8,242.6 1378.0,241.1 1378.3,239.6 1378.6,238.1 1378.8,236.7 1379.1,235.2 1379.4,233.7 1379.6,232.2 1379.9,230.8 1380.2,229.3 1380.4,227.8 1380.7,226.3 1381.0,224.9 1381.3,223.4 1381.6,221.9 1381.9,220.5 1382.1,219.0 1382.4,217.5 1382.7,216.1 1383.0,214.6 1383.3,213.1 1383.6,211.7 1383.9,210.2 1384.2,208.7 1384.5,207.3 1384.9,205.8 1385.2,204.3 1385.5,202.9 1385.8,201.4 1386.1,199.9 1386.5,198.5 1386.8,197.0 1387.1,195.5 1387.5,194.1 1387.8,192.6 1388.2,191.2 1388.5,189.7 1388.9,188.2 1389.2,186.8 1389.6,185.3 1389.9,183.9 1390.3,182.4 1390.7,181.0 1391.0,179.5 1391.4,178.0 1391.8,176.6 1392.2,175.1 1392.6,173.7 1393.0,172.2 1393.4,170.8 1393.8,169.3 1394.2,167.9 1394.6,166.4 1395.0,165.0 1395.4,163.5 1395.8,162.1 1396.3,160.7 1396.7,159.2 1397.1,157.8 1397.6,156.3 1398.0,154.9 1398.4,153.4 1398.9,152.0 1399.3,150.6 1399.8,149.1 1400.2,147.7 1400.7,146.3 1401.1,144.8 1401.6,143.4 1402.0,142.0 1402.5,140.6 1402.9,139.2 1403.4,137.8 1403.8,136.4 1404.2,134.9 1404.7,133.5 1405.1,132.2 1405.5,130.8 1406.0,129.4 1406.4,128.0 1406.8,126.6 1407.2,125.2 1407.6,123.9 1408.0,122.5 1408.4,121.1 1408.8,119.7 1409.3,118.2 1409.7,116.8 1410.1,115.3 1410.6,113.7 1411.1,112.2 1411.6,110.5 1412.2,108.9 1412.7,107.2 1413.3,105.5 1413.9,103.8 1414.6,102.2 1415.3,100.6 1416.0,99.0 1416.8,97.6 1417.6,96.2 1418.5,94.9 1419.4,93.8 1420.3,92.8 1421.3,91.9 1422.3,91.3 1423.3,90.8 1424.3,90.6 1425.3,90.6 1426.3,90.8 1427.2,91.3 1428.2,92.0 1429.1,92.8 1430.1,93.9 1431.0,95.0 1431.8,96.3 1432.7,97.6 1433.5,99.0 1434.3,100.5 1435.1,101.9 1435.8,103.4 1436.5,104.9 1437.1,106.3 1437.8,107.8 1438.4,109.3 1439.0,110.7 1439.5,112.2 1440.1,113.7 1440.6,115.2 1441.1,116.6 1441.6,118.1 1442.0,119.6 1442.5,121.0 1442.9,122.5 1443.3,124.0 1443.8,125.5 1444.2,126.9 1444.6,128.4 1445.0,129.9 1445.4,131.3 1445.8,132.8 1446.2,134.3 1446.6,135.7 1447.0,137.2 1447.4,138.6 1447.8,140.1 1448.2,141.5 1448.7,143.0 1449.1,144.4 1449.6,145.8 1450.0,147.3 1450.5,148.7 1451.0,150.1 1451.6,151.5 1452.1,152.9 1452.6,154.3 1453.2,155.6 1453.8,157.0 1454.4,158.3 1455.1,159.7 1455.7,161.0 1456.4,162.3 1457.1,163.6 1457.9,164.9 1458.7,166.1 1459.5,167.3 1460.3,168.6 1461.2,169.8 1462.1,170.9 1463.0,172.1 1463.9,173.3 1464.9,174.4 1465.9,175.6 1466.9,176.7 1467.9,177.8 1468.9,178.9 1469.9,180.0 1470.9,181.2 1471.9,182.3 1472.9,183.4 1473.9,184.5 1474.9,185.6 1475.9,186.8 1476.9,187.9 1477.9,189.1 1478.8,190.2 1479.8,191.4 1480.7,192.6 1481.5,193.8 1482.4,195.0 1483.2,196.2 1484.0,197.4 1484.8,198.7 1485.6,199.9 1486.3,201.2 1487.0,202.5 1487.7,203.8 1488.4,205.1 1489.1,206.5 1489.7,207.8 1490.3,209.1 1490.9,210.5 1491.5,211.9 1492.1,213.2 1492.6,214.6 1493.2,216.0 1493.7,217.4 1494.2,218.8 1494.7,220.2 1495.2,221.6 1495.6,223.1 1496.1,224.5 1496.5,225.9 1497.0,227.4 1497.4,228.8 1497.8,230.3 1498.2,231.7 1498.6,233.2 1499.0,234.7 1499.3,236.1 1499.7,237.6 1500.1,239.1 1500.4,240.5 1500.8,242.0 1501.1,243.5 1501.5,245.0 1501.8,246.5 1502.1,247.9 1502.5,249.4 1502.8,250.9 1503.1,252.4 1503.5,253.8 1503.8,255.3 1504.1,256.8 1504.4,258.3 1504.7,259.7 1505.1,261.2 1505.4,262.7 1505.7,264.2 1506.0,265.6 1506.3,267.1 1506.6,268.6 1506.9,270.0 1507.3,271.5 1507.6,273.0 1507.9,274.4 1508.2,275.9 1508.5,277.4 1508.8,278.8 1509.1,280.3 1509.4,281.8 1509.7,283.2 1510.0,284.7 1510.3,286.1 1510.6,287.6 1510.9,289.1 1511.2,290.5 1511.5,292.0 1511.8,293.4 1512.1,294.9 1512.4,296.4 1512.7,297.8 1513.0,299.3 1513.3,300.7 1513.6,302.2 1513.9,303.7 1514.2,305.1 1514.5,306.6 1514.8,308.0 1515.1,309.5 1515.4,311.0 1515.7,312.4 1516.0,313.9 1516.3,315.3 1516.6,316.8 1516.9,318.2 1517.2,319.7 1517.6,321.2 1517.9,322.6 1518.2,324.1 1518.5,325.5 1518.8,327.0 1519.1,328.4 1519.4,329.9 1519.7,331.4 1520.1,332.8 1520.4,334.3 1520.7,335.7 1521.0,337.2 1521.3,338.6 1521.7,340.1 1522.0,341.6 1522.3,343.0 1522.6,344.5 1523.0,345.9 1523.3,347.4 1523.6,348.9 1524.0,350.3 1524.3,351.8 1524.7,353.2 1525.0,354.7 1525.4,356.2 1525.7,357.6 1526.1,359.1 1526.4,360.6 1526.8,362.0 1527.1,363.5 1527.5,364.9 1527.9,366.4 1528.2,367.9 1528.6,369.3 1529.0,370.8 1529.3,372.3 1529.7,373.7 1530.1,375.2 1530.5,376.7 1530.9,378.2 1531.3,379.6 1531.7,381.1 1532.1,382.6 1532.5,384.0 1532.9,385.5 1533.3,387.0 1533.7,388.5 1534.1,389.9 1534.5,391.4 1535.0,392.9 1535.4,394.4 1535.8,395.8 1536.3,397.3 1536.7,398.8 1537.2,400.2 1537.7,401.7 1538.2,403.1 1538.7,404.5 1539.3,405.9 1539.8,407.3 1540.4,408.6 1541.1,410.0 1541.7,411.3 1542.4,412.6 1543.1,413.9 1543.8,415.1 1544.6,416.3 1545.4,417.5 1546.3,418.6 1547.2,419.8 1548.1,420.8 1549.1,421.9 1550.1,422.9 1551.2,423.8 1552.3,424.7 1553.4,425.6 1554.6,426.5 1555.8,427.3 1557.0,428.2 1558.3,428.9 1559.5,429.7 1560.9,430.4 1562.2,431.1 1563.5,431.8 1564.9,432.5 1566.3,433.1 1567.7,433.7 1569.1,434.4 1570.5,435.0 1571.9,435.5 1573.3,436.1 1574.7,436.7 1576.2,437.2 1577.6,437.8 1579.0,438.3 1580.5,438.8 1581.9,439.3 1583.3,439.9 1584.7,440.4 1586.2,440.9 1587.6,441.4 1589.0,441.8 1590.4,442.3 1591.9,442.8 1593.3,443.3 1594.7,443.7 1596.1,444.2 1597.5,444.7 1599.0,445.1 1600.4,445.6 1601.8,446.0 1603.2,446.5 1604.6,446.9 1606.0,447.4 1607.5,447.8 1608.9,448.3 1610.3,448.7 1611.7,449.2 1613.1,449.6 1614.6,450.1 1616.0,450.5 1617.4,451.0 1618.8,451.4 1620.2,451.9 1621.7,452.3 1623.1,452.8 1624.5,453.2 1625.9,453.7 1627.4,454.1 1628.8,454.6 1630.2,455.1 1631.6,455.5 1633.1,456.0 1634.5,456.5 1635.9,456.9 1637.3,457.4 1638.8,457.9 1640.2,458.3 1641.6,458.8 1643.1,459.3 1644.5,459.7 1646.0,460.2 1647.4,460.7 1648.8,461.1 1650.3,461.6 1651.7,462.0 1653.2,462.4 1654.6,462.9 1656.0,463.3 1657.5,463.7 1658.9,464.1 1660.4,464.5 1661.8,464.9 1663.3,465.3 1664.7,465.7 1666.2,466.0 1667.7,466.4 1669.1,466.7 1670.6,467.1 1672.0,467.4 1673.5,467.7 1675.0,468.0 1676.4,468.3 1677.9,468.6 1679.4,468.8 1680.8,469.1 1682.3,469.3 1683.8,469.5 1685.3,469.7 1686.7,469.9 1688.2,470.1 1689.7,470.3 1691.2,470.4 1692.7,470.6 1694.2,470.7 1695.7,470.8 1697.1,470.9 1698.6,471.0 1700.1,471.1 1701.6,471.1 1703.1,471.2 1704.6,471.2 1706.1,471.3 1707.6,471.3 1709.1,471.3 1710.6,471.3 1712.1,471.4 1713.6,471.4 1715.1,471.4 1716.6,471.4 1718.1,471.3 1719.6,471.3 1721.1,471.3 1722.6,471.3 1724.1,471.3 1725.6,471.2 1727.1,471.2 1728.6,471.1 1730.1,471.1 1731.6,471.1 1733.2,471.0 1734.7,471.0 1736.2,470.9 1737.7,470.9 1739.2,470.9 1740.7,470.8 1742.2,470.8 1743.7,470.8 1745.2,470.7 1746.7,470.7 1748.2,470.7 1749.7,470.6 1751.2,470.6 1752.7,470.6 1754.2,470.5 1755.7,470.5 1757.2,470.5 1758.7,470.5 1760.2,470.5 1761.7,470.4 1763.2,470.4 1764.7,470.4 1766.2,470.4 1767.7,470.4 1769.2,470.4 1770.7,470.4 1772.2,470.3 1773.7,470.3 1775.2,470.3 1776.7,470.3 1778.2,470.3 1779.7,470.3 1781.2,470.3 1782.7,470.3 1784.2,470.3 1785.7,470.3 1787.2,470.3 1788.7,470.3 1790.2,470.3 1791.7,470.3 1793.2,470.3 1794.7,470.3 1796.2,470.3 1797.7,470.3 1799.2,470.3 1800.6,470.3 1802.1,470.3 1803.6,470.3 1805.1,470.3 1806.6,470.3 1808.1,470.3 1809.6,470.3 1811.1,470.3 1812.6,470.3 1814.1,470.3 1815.6,470.4 1817.1,470.4 1818.6,470.4 1820.1,470.4 1821.6,470.4 1823.1,470.4 1824.6,470.4 1826.1,470.4 1827.6,470.4 1829.1,470.4 1830.6,470.5 1832.1,470.5 1833.6,470.5 1835.1,470.5 1836.6,470.5 1838.1,470.5 1839.6,470.5 1841.1,470.5 1842.6,470.5 1844.1,470.5 1845.6,470.6 1847.1,470.6 1848.6,470.6 1850.1,470.6 1851.6,470.6 1853.1,470.6 1854.6,470.6 1856.1,470.6 1857.6,470.6 1859.1,470.6 1860.6,470.6 1862.1,470.6 1863.6,470.7 1865.1,470.7 1866.6,470.7 1868.1,470.7 1869.6,470.7 1871.1,470.7 1872.6,470.7 1874.1,470.7 1875.6,470.7 1877.1,470.7 1878.6,470.7 1880.1,470.7 1881.6,470.7" fill="none" stroke="#ff0000" stroke-width="3.9" stroke-linejoin="round" stroke-linecap="butt" clip-path="url(#cC)"/>
<path d="M1334.5,421.1 1334.9,419.6 1335.3,418.1 1335.7,416.7 1336.1,415.2 1336.5,413.8 1336.9,412.3 1337.3,410.9 1337.7,409.5 1338.1,408.0 1338.5,406.6 1339.0,405.1 1339.4,403.7 1339.8,402.3 1340.3,400.8 1340.7,399.4 1341.2,398.0 1341.6,396.5 1342.1,395.1 1342.6,393.7 1343.0,392.3 1343.5,390.8 1344.0,389.4 1344.5,388.0 1345.0,386.6 1345.4,385.2 1345.9,383.7 1346.4,382.3 1346.9,380.9 1347.4,379.5 1347.9,378.1 1348.4,376.7 1348.9,375.3 1349.4,373.9 1349.9,372.4 1350.5,371.0 1351.0,369.6 1351.5,368.2 1352.0,366.8 1352.5,365.4 1353.0,364.0 1353.6,362.6 1354.1,361.2 1354.6,359.8 1355.1,358.4 1355.6,357.0 1356.2,355.6 1356.7,354.1 1357.2,352.7 1357.7,351.3 1358.3,349.9 1358.8,348.5 1359.3,347.1 1359.8,345.7 1360.3,344.3 1360.9,342.9 1361.4,341.5 1361.9,340.1 1362.4,338.7 1362.9,337.3 1363.4,335.9 1363.9,334.5 1364.5,333.1 1365.0,331.6 1365.5,330.2 1366.0,328.8 1366.5,327.4 1367.0,326.0 1367.5,324.6 1368.0,323.2 1368.4,321.8 1368.9,320.3 1369.4,318.9 1369.9,317.5 1370.4,316.1 1370.8,314.7 1371.3,313.2 1371.8,311.8 1372.2,310.4 1372.7,309.0 1373.2,307.5 1373.6,306.1 1374.1,304.7 1374.5,303.2 1374.9,301.8 1375.4,300.4 1375.8,298.9 1376.2,297.5 1376.6,296.1 1377.0,294.6 1377.4,293.2 1377.8,291.7 1378.2,290.3 1378.6,288.8 1379.0,287.4 1379.4,285.9 1379.8,284.5 1380.1,283.0 1380.5,281.6 1380.9,280.1 1381.2,278.7 1381.6,277.2 1381.9,275.7 1382.3,274.3 1382.6,272.8 1383.0,271.4 1383.3,269.9 1383.7,268.4 1384.0,267.0 1384.3,265.5 1384.6,264.0 1385.0,262.6 1385.3,261.1 1385.6,259.6 1385.9,258.2 1386.2,256.7 1386.5,255.2 1386.8,253.7 1387.1,252.3 1387.4,250.8 1387.7,249.3 1388.0,247.8 1388.3,246.4 1388.6,244.9 1388.9,243.4 1389.2,241.9 1389.5,240.5 1389.8,239.0 1390.1,237.5 1390.4,236.0 1390.7,234.6 1391.0,233.1 1391.2,231.6 1391.5,230.1 1391.8,228.7 1392.1,227.2 1392.4,225.7 1392.7,224.2 1392.9,222.8 1393.2,221.3 1393.5,219.8 1393.8,218.3 1394.1,216.9 1394.3,215.4 1394.6,213.9 1394.9,212.5 1395.2,211.0 1395.5,209.5 1395.8,208.1 1396.1,206.6 1396.4,205.1 1396.6,203.7 1396.9,202.2 1397.2,200.7 1397.5,199.3 1397.8,197.8 1398.1,196.3 1398.4,194.9 1398.7,193.4 1399.0,192.0 1399.3,190.5 1399.6,189.1 1399.9,187.6 1400.2,186.2 1400.6,184.7 1400.9,183.3 1401.2,181.8 1401.5,180.4 1401.8,178.9 1402.2,177.5 1402.5,176.0 1402.8,174.6 1403.2,173.2 1403.5,171.7 1403.9,170.3 1404.2,168.9 1404.6,167.4 1404.9,166.0 1405.3,164.5 1405.6,163.1 1406.0,161.6 1406.3,160.2 1406.7,158.7 1407.0,157.2 1407.4,155.8 1407.7,154.3 1408.1,152.8 1408.4,151.3 1408.8,149.8 1409.1,148.3 1409.5,146.7 1409.8,145.2 1410.2,143.6 1410.5,142.1 1410.9,140.5 1411.2,138.9 1411.5,137.3 1411.9,135.7 1412.3,134.2 1412.7,132.6 1413.2,131.1 1413.6,129.5 1414.1,128.0 1414.7,126.6 1415.3,125.1 1416.0,123.8 1416.7,122.4 1417.5,121.1 1418.4,119.9 1419.3,118.9 1420.2,118.0 1421.2,117.4 1422.2,117.1 1423.2,117.2 1424.2,117.5 1425.2,118.2 1426.1,119.1 1427.1,120.2 1428.0,121.4 1428.9,122.8 1429.8,124.3 1430.6,125.9 1431.4,127.4 1432.1,129.0 1432.7,130.5 1433.3,132.0 1433.9,133.5 1434.4,135.0 1434.9,136.5 1435.4,137.9 1435.8,139.4 1436.2,140.8 1436.6,142.3 1437.1,143.7 1437.5,145.2 1437.9,146.6 1438.3,148.1 1438.7,149.5 1439.1,150.9 1439.5,152.4 1440.0,153.8 1440.4,155.3 1440.8,156.7 1441.2,158.1 1441.6,159.6 1442.1,161.0 1442.5,162.4 1442.9,163.8 1443.3,165.3 1443.7,166.7 1444.1,168.1 1444.5,169.5 1445.0,171.0 1445.4,172.4 1445.8,173.8 1446.2,175.2 1446.6,176.6 1447.0,178.0 1447.4,179.5 1447.8,180.9 1448.2,182.3 1448.6,183.7 1449.0,185.2 1449.4,186.6 1449.8,188.0 1450.2,189.5 1450.6,190.9 1451.0,192.4 1451.4,193.8 1451.8,195.3 1452.1,196.8 1452.5,198.3 1452.9,199.8 1453.4,201.3 1453.8,202.8 1454.3,204.3 1454.8,205.8 1455.3,207.3 1455.8,208.8 1456.5,210.3 1457.1,211.7 1457.8,213.2 1458.6,214.6 1459.4,216.0 1460.3,217.3 1461.3,218.5 1462.3,219.7 1463.3,220.7 1464.4,221.5 1465.6,222.2 1466.8,222.8 1468.1,223.1 1469.4,223.2 1470.8,223.1 1472.2,222.7 1473.7,222.1 1475.2,221.4 1476.7,220.6 1478.2,219.9 1479.7,219.3 1481.2,218.9 1482.6,218.8 1484.0,218.8 1485.3,218.9 1486.6,219.3 1487.8,219.8 1489.0,220.4 1490.2,221.2 1491.3,222.1 1492.3,223.1 1493.3,224.1 1494.2,225.3 1495.1,226.5 1495.9,227.7 1496.7,229.0 1497.4,230.4 1498.1,231.7 1498.7,233.1 1499.2,234.5 1499.8,236.0 1500.2,237.4 1500.7,238.9 1501.1,240.4 1501.5,241.9 1501.9,243.4 1502.2,244.9 1502.6,246.5 1502.9,248.0 1503.2,249.5 1503.6,251.1 1503.9,252.6 1504.2,254.1 1504.6,255.6 1504.9,257.1 1505.2,258.6 1505.6,260.1 1506.0,261.5 1506.3,263.0 1506.7,264.5 1507.0,265.9 1507.4,267.4 1507.8,268.8 1508.2,270.3 1508.5,271.7 1508.9,273.2 1509.3,274.6 1509.7,276.0 1510.1,277.5 1510.5,278.9 1510.9,280.3 1511.3,281.7 1511.6,283.1 1512.0,284.6 1512.4,286.0 1512.8,287.4 1513.2,288.8 1513.6,290.2 1514.0,291.6 1514.4,293.1 1514.8,294.5 1515.2,295.9 1515.6,297.3 1515.9,298.7 1516.3,300.2 1516.7,301.6 1517.1,303.0 1517.5,304.5 1517.8,305.9 1518.2,307.3 1518.6,308.8 1518.9,310.2 1519.3,311.7 1519.6,313.2 1520.0,314.6 1520.3,316.1 1520.6,317.6 1521.0,319.1 1521.3,320.6 1521.6,322.1 1522.0,323.5 1522.3,325.1 1522.6,326.6 1522.9,328.1 1523.2,329.6 1523.6,331.1 1523.9,332.6 1524.2,334.1 1524.6,335.6 1524.9,337.1 1525.3,338.6 1525.6,340.1 1526.0,341.6 1526.4,343.1 1526.8,344.5 1527.2,346.0 1527.6,347.5 1528.0,348.9 1528.4,350.3 1528.9,351.8 1529.4,353.2 1529.9,354.6 1530.4,356.0 1530.9,357.4 1531.4,358.8 1532.0,360.1 1532.6,361.4 1533.2,362.8 1533.9,364.1 1534.5,365.4 1535.2,366.6 1535.9,367.9 1536.7,369.1 1537.4,370.3 1538.2,371.5 1539.1,372.7 1539.9,373.8 1540.8,374.9 1541.8,376.0 1542.7,377.1 1543.7,378.1 1544.7,379.1 1545.8,380.0 1546.9,380.9 1548.1,381.8 1549.3,382.6 1550.5,383.4 1551.8,384.1 1553.1,384.8 1554.4,385.4 1555.8,385.9 1557.3,386.5 1558.7,387.0 1560.2,387.5 1561.6,387.9 1563.1,388.4 1564.5,389.0 1565.9,389.5 1567.3,390.1 1568.6,390.8 1569.9,391.5 1571.1,392.3 1572.3,393.2 1573.4,394.1 1574.4,395.2 1575.4,396.2 1576.4,397.4 1577.3,398.6 1578.2,399.8 1579.1,401.0 1580.0,402.3 1580.9,403.5 1581.8,404.8 1582.7,406.0 1583.6,407.3 1584.5,408.5 1585.5,409.6 1586.5,410.8 1587.5,411.9 1588.6,413.0 1589.6,414.1 1590.7,415.1 1591.8,416.1 1592.9,417.2 1594.1,418.1 1595.2,419.1 1596.4,420.0 1597.6,420.9 1598.8,421.8 1600.0,422.7 1601.2,423.6 1602.5,424.4 1603.7,425.3 1605.0,426.1 1606.3,426.9 1607.5,427.6 1608.8,428.4 1610.1,429.1 1611.5,429.9 1612.8,430.6 1614.1,431.3 1615.4,432.0 1616.8,432.7 1618.1,433.3 1619.4,434.0 1620.8,434.7 1622.1,435.3 1623.5,435.9 1624.8,436.6 1626.1,437.2 1627.5,437.8 1628.8,438.4 1630.2,439.1 1631.5,439.7 1632.8,440.3 1634.2,441.0 1635.5,441.6 1636.8,442.3 1638.1,443.0 1639.5,443.7 1640.8,444.4 1642.1,445.1 1643.4,445.8 1644.7,446.6 1646.0,447.3 1647.3,448.1 1648.6,449.0 1649.8,449.8 1651.1,450.7 1652.4,451.5 1653.6,452.4 1654.9,453.3 1656.1,454.2 1657.4,455.1 1658.7,455.9 1659.9,456.8 1661.2,457.7 1662.5,458.5 1663.8,459.4 1665.0,460.2 1666.3,460.9 1667.6,461.7 1668.9,462.4 1670.3,463.1 1671.6,463.8 1672.9,464.4 1674.3,465.0 1675.6,465.5 1677.0,466.1 1678.4,466.6 1679.8,467.0 1681.2,467.5 1682.6,467.9 1684.0,468.3 1685.4,468.6 1686.8,469.0 1688.3,469.3 1689.7,469.6 1691.1,469.9 1692.6,470.1 1694.0,470.4 1695.5,470.6 1697.0,470.8 1698.4,470.9 1699.9,471.1 1701.4,471.2 1702.9,471.4 1704.4,471.5 1705.9,471.6 1707.4,471.7 1708.9,471.7 1710.4,471.8 1711.9,471.8 1713.4,471.9 1714.9,471.9 1716.4,471.9 1717.9,472.0 1719.4,472.0 1720.9,472.0 1722.5,472.0 1724.0,472.0 1725.5,472.0 1727.0,472.0 1728.5,471.9 1730.1,471.9 1731.6,471.9 1733.1,471.9 1734.6,471.9 1736.1,471.9 1737.6,471.9 1739.1,471.9 1740.7,471.8 1742.2,471.8 1743.7,471.8 1745.2,471.8 1746.7,471.8 1748.2,471.8 1749.7,471.8 1751.2,471.8 1752.7,471.8 1754.2,471.8 1755.7,471.8 1757.2,471.8 1758.7,471.8 1760.2,471.8 1761.7,471.8 1763.2,471.8 1764.7,471.8 1766.2,471.8 1767.7,471.8 1769.2,471.8 1770.7,471.8 1772.2,471.8 1773.7,471.8 1775.2,471.8 1776.7,471.8 1778.2,471.8 1779.7,471.8 1781.2,471.8 1782.7,471.8 1784.2,471.8 1785.7,471.8 1787.2,471.8 1788.7,471.8 1790.2,471.8 1791.7,471.8 1793.2,471.8 1794.7,471.8 1796.2,471.8 1797.7,471.8 1799.2,471.8 1800.7,471.8 1802.1,471.8 1803.6,471.8 1805.1,471.8 1806.6,471.8 1808.1,471.8 1809.6,471.8 1811.1,471.8 1812.6,471.9 1814.1,471.9 1815.6,471.9 1817.1,471.9 1818.6,471.9 1820.1,471.9 1821.6,471.9 1823.1,471.9 1824.6,471.9 1826.1,471.9 1827.5,471.9 1829.0,471.9 1830.5,471.9 1832.0,471.9 1833.5,471.9 1835.0,471.9 1836.5,471.9 1838.0,471.9 1839.5,471.9 1841.0,471.9 1842.5,471.9 1844.0,471.9 1845.5,471.9 1847.0,471.9 1848.5,471.9 1850.0,471.9 1851.5,471.9 1853.0,471.9 1854.5,471.9 1856.0,471.9 1857.5,471.9 1859.0,471.9 1860.5,471.9 1862.1,471.9 1863.6,471.9 1865.1,471.9 1866.6,471.9 1868.1,471.9 1869.6,471.9 1871.1,471.9 1872.6,471.9 1874.1,471.9 1875.6,471.9 1877.2,471.9 1878.7,471.9 1880.2,471.9 1881.7,471.8" fill="none" stroke="#0000ff" stroke-width="3.9" stroke-linejoin="round" stroke-linecap="butt" clip-path="url(#cC)"/>
<path d="M1334.4,472.6V464.6M1516.8,472.6V464.6M1699.2,472.6V464.6M1881.6,472.6V464.6M1334.4,399.9H1342.4M1881.6,399.9H1873.6M1334.4,327.2H1342.4M1881.6,327.2H1873.6M1334.4,254.5H1342.4M1881.6,254.5H1873.6M1334.4,181.9H1342.4M1881.6,181.9H1873.6M1334.4,109.2H1342.4M1881.6,109.2H1873.6" stroke="#000" stroke-width="1.6" fill="none"/>
<rect x="1334.4" y="36.5" width="547.2" height="436.1" fill="none" stroke="#222" stroke-width="1.9"/>
<text transform="translate(1334.4,493.7) scale(0.965,1)" text-anchor="middle" class="t" font-size="22.4">0.0</text>
<text transform="translate(1516.8,493.7) scale(0.965,1)" text-anchor="middle" class="t" font-size="22.4">0.5</text>
<text transform="translate(1699.2,493.7) scale(0.965,1)" text-anchor="middle" class="t" font-size="22.4">1.0</text>
<text transform="translate(1881.6,493.7) scale(0.965,1)" text-anchor="middle" class="t" font-size="22.4">1.5</text>
<text x="1635.6" y="27.8" text-anchor="middle" class="t" font-size="33.6">Risk</text>
<text transform="translate(1716.6,71.7) scale(1.022,1)" class="t" font-size="29.0">p = 0.12</text>
<text x="1334.8" y="26.2" class="l" font-weight="bold" font-size="33.3">C</text>
<clipPath id="cD"><rect x="19.5" y="560.4" width="547.2" height="437.3"/></clipPath>
<path d="M19.4,997.3 21.0,997.4 22.6,997.5 24.2,997.6 25.7,997.6 27.3,997.7 28.8,997.7 30.3,997.7 31.8,997.7 33.3,997.7 34.8,997.6 36.3,997.6 37.7,997.6 39.2,997.5 40.6,997.5 42.0,997.4 43.5,997.4 44.9,997.3 46.3,997.2 47.8,997.2 49.2,997.1 50.6,997.1 52.1,997.1 53.5,997.0 55.0,997.0 56.5,997.0 58.0,997.0 59.5,997.0 61.0,997.0 62.5,997.1 64.0,997.1 65.6,997.2 67.1,997.3 68.7,997.3 70.3,997.4 71.9,997.5 73.4,997.5 75.0,997.6 76.6,997.6 78.2,997.6 79.7,997.6 81.3,997.6 82.9,997.6 84.4,997.6 86.0,997.5 87.5,997.4 89.1,997.3 90.6,997.1 92.1,996.9 93.6,996.7 95.0,996.4 96.5,996.1 97.9,995.7 99.3,995.3 100.7,994.9 102.1,994.4 103.4,993.9 104.7,993.3 106.1,992.8 107.4,992.1 108.6,991.5 109.9,990.8 111.1,990.0 112.3,989.3 113.5,988.5 114.7,987.7 115.9,986.8 117.1,985.9 118.2,985.0 119.3,984.1 120.4,983.1 121.5,982.1 122.5,981.1 123.6,980.1 124.6,979.0 125.6,978.0 126.6,976.9 127.6,975.8 128.6,974.6 129.6,973.5 130.5,972.3 131.4,971.1 132.3,969.9 133.2,968.7 134.1,967.5 134.9,966.3 135.8,965.0 136.6,963.8 137.4,962.5 138.2,961.2 139.0,960.0 139.8,958.7 140.6,957.4 141.3,956.1 142.0,954.8 142.8,953.5 143.5,952.1 144.2,950.8 144.8,949.5 145.5,948.1 146.2,946.8 146.8,945.5 147.4,944.1 148.1,942.7 148.7,941.4 149.3,940.0 149.9,938.6 150.4,937.3 151.0,935.9 151.6,934.5 152.1,933.1 152.7,931.7 153.2,930.3 153.7,928.9 154.2,927.5 154.7,926.1 155.2,924.7 155.7,923.3 156.2,921.9 156.7,920.4 157.1,919.0 157.6,917.6 158.0,916.2 158.5,914.7 158.9,913.3 159.3,911.9 159.7,910.4 160.2,909.0 160.6,907.5 161.0,906.1 161.4,904.7 161.8,903.2 162.2,901.8 162.5,900.3 162.9,898.9 163.3,897.4 163.7,896.0 164.0,894.5 164.4,893.1 164.8,891.6 165.1,890.1 165.5,888.7 165.8,887.2 166.2,885.8 166.5,884.3 166.9,882.9 167.2,881.4 167.5,880.0 167.9,878.5 168.2,877.0 168.5,875.6 168.8,874.1 169.2,872.7 169.5,871.2 169.8,869.7 170.1,868.3 170.4,866.8 170.7,865.3 171.0,863.9 171.3,862.4 171.6,860.9 171.9,859.5 172.2,858.0 172.5,856.5 172.8,855.1 173.1,853.6 173.4,852.1 173.6,850.7 173.9,849.2 174.2,847.7 174.5,846.3 174.8,844.8 175.0,843.3 175.3,841.9 175.6,840.4 175.8,838.9 176.1,837.4 176.4,836.0 176.6,834.5 176.9,833.0 177.1,831.6 177.4,830.1 177.7,828.6 177.9,827.1 178.2,825.7 178.4,824.2 178.7,822.7 178.9,821.2 179.2,819.8 179.4,818.3 179.7,816.8 179.9,815.3 180.2,813.8 180.4,812.4 180.6,810.9 180.9,809.4 181.1,807.9 181.4,806.4 181.6,805.0 181.8,803.5 182.1,802.0 182.3,800.5 182.6,799.0 182.8,797.6 183.0,796.1 183.3,794.6 183.5,793.1 183.7,791.6 184.0,790.2 184.2,788.7 184.4,787.2 184.7,785.7 184.9,784.2 185.1,782.7 185.4,781.3 185.6,779.8 185.8,778.3 186.1,776.8 186.3,775.3 186.5,773.8 186.8,772.3 187.0,770.9 187.2,769.4 187.4,767.9 187.7,766.4 187.9,764.9 188.1,763.4 188.3,762.0 188.6,760.5 188.8,759.0 189.0,757.5 189.3,756.0 189.5,754.5 189.7,753.0 189.9,751.6 190.2,750.1 190.4,748.6 190.6,747.1 190.8,745.6 191.1,744.1 191.3,742.6 191.5,741.2 191.7,739.7 192.0,738.2 192.2,736.7 192.4,735.2 192.7,733.7 192.9,732.3 193.1,730.8 193.3,729.3 193.6,727.8 193.8,726.3 194.0,724.8 194.3,723.4 194.5,721.9 194.7,720.4 194.9,718.9 195.2,717.4 195.4,715.9 195.6,714.5 195.9,713.0 196.1,711.5 196.3,710.0 196.6,708.5 196.8,707.1 197.0,705.6 197.3,704.1 197.5,702.6 197.7,701.1 198.0,699.7 198.2,698.2 198.4,696.7 198.7,695.2 198.9,693.7 199.2,692.3 199.4,690.8 199.6,689.3 199.9,687.8 200.1,686.4 200.4,684.9 200.6,683.4 200.8,681.9 201.1,680.5 201.3,679.0 201.6,677.5 201.8,676.1 202.1,674.6 202.3,673.1 202.6,671.6 202.8,670.2 203.1,668.7 203.3,667.2 203.6,665.8 203.8,664.3 204.1,662.8 204.3,661.4 204.6,659.9 204.9,658.4 205.1,657.0 205.4,655.5 205.6,654.0 205.9,652.6 206.2,651.1 206.4,649.6 206.7,648.2 207.0,646.7 207.2,645.3 207.5,643.8 207.8,642.3 208.1,640.9 208.3,639.4 208.6,638.0 208.9,636.5 209.2,635.0 209.5,633.5 209.8,632.1 210.1,630.6 210.4,629.1 210.7,627.6 211.1,626.1 211.4,624.6 211.7,623.1 212.1,621.6 212.5,620.1 212.8,618.5 213.2,617.0 213.6,615.5 214.1,614.0 214.5,612.4 215.1,610.9 215.6,609.4 216.2,607.9 216.9,606.4 217.6,604.9 218.4,603.4 219.3,602.0 220.2,600.6 221.2,599.4 222.2,598.2 223.2,597.2 224.3,596.3 225.4,595.6 226.5,595.2 227.6,595.0 228.8,595.0 229.9,595.2 231.0,595.6 232.1,596.1 233.3,596.9 234.4,597.7 235.4,598.6 236.5,599.7 237.6,600.8 238.6,602.0 239.6,603.3 240.5,604.5 241.5,605.8 242.3,607.1 243.2,608.4 244.0,609.7 244.8,611.1 245.6,612.4 246.3,613.7 247.0,615.1 247.7,616.5 248.3,617.8 249.0,619.2 249.6,620.6 250.2,622.0 250.7,623.4 251.3,624.8 251.8,626.2 252.4,627.6 252.9,629.1 253.4,630.5 253.8,631.9 254.3,633.3 254.8,634.8 255.2,636.2 255.7,637.7 256.1,639.1 256.6,640.5 257.0,642.0 257.5,643.4 257.9,644.8 258.4,646.3 258.8,647.7 259.2,649.2 259.7,650.6 260.1,652.0 260.6,653.5 261.0,654.9 261.5,656.3 261.9,657.8 262.3,659.2 262.8,660.6 263.2,662.0 263.7,663.5 264.1,664.9 264.6,666.3 265.0,667.8 265.5,669.2 265.9,670.6 266.4,672.0 266.8,673.5 267.3,674.9 267.7,676.3 268.2,677.7 268.6,679.2 269.1,680.6 269.5,682.0 270.0,683.4 270.4,684.8 270.9,686.3 271.4,687.7 271.8,689.1 272.3,690.5 272.7,691.9 273.2,693.4 273.7,694.8 274.2,696.2 274.6,697.6 275.1,699.0 275.6,700.5 276.1,701.9 276.5,703.3 277.0,704.7 277.5,706.1 278.0,707.5 278.5,708.9 279.0,710.3 279.5,711.8 279.9,713.2 280.4,714.6 280.9,716.0 281.4,717.4 281.9,718.8 282.4,720.2 282.9,721.6 283.4,723.0 283.9,724.5 284.4,725.9 285.0,727.3 285.5,728.7 286.0,730.1 286.5,731.5 287.0,732.9 287.5,734.3 288.0,735.7 288.5,737.1 289.0,738.5 289.6,739.9 290.1,741.4 290.6,742.8 291.1,744.2 291.6,745.6 292.1,747.0 292.7,748.4 293.2,749.8 293.7,751.2 294.2,752.6 294.7,754.0 295.3,755.4 295.8,756.8 296.3,758.2 296.8,759.6 297.3,761.1 297.8,762.5 298.4,763.9 298.9,765.3 299.4,766.7 299.9,768.1 300.4,769.5 301.0,770.9 301.5,772.3 302.0,773.7 302.5,775.1 303.0,776.6 303.5,778.0 304.0,779.4 304.6,780.8 305.1,782.2 305.6,783.6 306.1,785.0 306.6,786.4 307.1,787.8 307.6,789.2 308.2,790.7 308.7,792.1 309.2,793.5 309.7,794.9 310.2,796.3 310.7,797.7 311.2,799.1 311.8,800.5 312.3,801.9 312.8,803.3 313.3,804.8 313.8,806.2 314.3,807.6 314.8,809.0 315.4,810.4 315.9,811.8 316.4,813.2 316.9,814.6 317.4,816.0 317.9,817.4 318.5,818.9 319.0,820.3 319.5,821.7 320.0,823.1 320.5,824.5 321.1,825.9 321.6,827.3 322.1,828.7 322.6,830.1 323.1,831.5 323.7,832.9 324.2,834.3 324.7,835.7 325.2,837.1 325.7,838.5 326.3,839.9 326.8,841.3 327.3,842.7 327.9,844.2 328.4,845.6 328.9,847.0 329.4,848.4 330.0,849.8 330.5,851.2 331.0,852.6 331.6,854.0 332.1,855.4 332.6,856.8 333.2,858.2 333.7,859.5 334.2,860.9 334.8,862.3 335.3,863.7 335.8,865.1 336.4,866.5 336.9,867.9 337.5,869.3 338.0,870.7 338.6,872.1 339.1,873.5 339.7,874.9 340.2,876.3 340.8,877.7 341.3,879.0 341.9,880.4 342.4,881.8 343.0,883.2 343.5,884.6 344.1,886.0 344.6,887.4 345.2,888.7 345.8,890.1 346.3,891.5 346.9,892.9 347.4,894.3 348.0,895.6 348.6,897.0 349.2,898.4 349.7,899.8 350.3,901.2 350.9,902.5 351.4,903.9 352.0,905.3 352.6,906.7 353.2,908.0 353.8,909.4 354.4,910.8 355.0,912.2 355.6,913.5 356.2,914.9 356.8,916.3 357.4,917.7 358.0,919.1 358.6,920.5 359.3,921.9 359.9,923.2 360.5,924.6 361.2,926.0 361.8,927.4 362.5,928.8 363.1,930.2 363.8,931.6 364.5,933.0 365.2,934.3 366.0,935.7 366.7,937.0 367.5,938.3 368.3,939.6 369.1,940.8 370.0,942.0 370.9,943.2 371.8,944.4 372.7,945.5 373.7,946.6 374.7,947.6 375.7,948.6 376.8,949.5 378.0,950.4 379.1,951.2 380.3,952.0 381.6,952.7 382.9,953.4 384.2,954.0 385.6,954.5 387.0,955.0 388.4,955.4 389.8,955.7 391.3,956.0 392.8,956.3 394.3,956.5 395.8,956.8 397.3,957.0 398.8,957.2 400.3,957.3 401.8,957.5 403.3,957.7 404.8,957.9 406.3,958.2 407.8,958.4 409.2,958.7 410.7,959.1 412.1,959.4 413.5,959.9 415.0,960.3 416.3,960.8 417.7,961.4 419.1,962.0 420.4,962.6 421.8,963.2 423.1,963.9 424.4,964.6 425.8,965.3 427.1,966.0 428.4,966.8 429.7,967.5 431.0,968.3 432.3,969.0 433.6,969.8 434.9,970.6 436.2,971.3 437.5,972.1 438.9,972.9 440.2,973.6 441.5,974.4 442.8,975.1 444.1,975.8 445.4,976.5 446.8,977.2 448.1,977.9 449.4,978.6 450.8,979.3 452.1,980.0 453.5,980.6 454.8,981.3 456.2,981.9 457.5,982.5 458.9,983.1 460.3,983.7 461.6,984.2 463.0,984.8 464.4,985.3 465.8,985.8 467.2,986.3 468.6,986.8 470.0,987.2 471.4,987.6 472.8,988.0 474.2,988.4 475.7,988.8 477.1,989.1 478.5,989.4 480.0,989.7 481.5,989.9 482.9,990.1 484.4,990.3 485.9,990.5 487.4,990.6 488.8,990.7 490.3,990.8 491.8,990.9 493.3,991.0 494.8,991.0 496.4,991.1 497.9,991.1 499.4,991.1 500.9,991.1 502.4,991.2 503.9,991.2 505.5,991.2 507.0,991.2 508.5,991.2 510.0,991.2 511.5,991.2 513.1,991.3 514.6,991.3 516.1,991.4 517.6,991.4 519.1,991.5 520.6,991.6 522.1,991.8 523.6,991.9 525.1,992.1 526.6,992.3 528.1,992.5 529.5,992.7 531.0,992.9 532.5,993.2 533.9,993.5 535.4,993.7 536.9,994.0 538.3,994.3 539.8,994.5 541.3,994.8 542.7,995.0 544.2,995.3 545.7,995.5 547.1,995.7 548.6,995.9 550.1,996.0 551.6,996.2 553.1,996.3 554.6,996.4 556.1,996.4 557.6,996.4 559.1,996.4 560.6,996.3 562.1,996.2 563.7,996.0 565.2,995.8 566.8,995.6" fill="none" stroke="#ff0000" stroke-width="3.9" stroke-linejoin="round" stroke-linecap="butt" clip-path="url(#cD)"/>
<path d="M19.4,997.3 21.0,997.4 22.5,997.4 24.0,997.5 25.6,997.5 27.1,997.5 28.6,997.5 30.1,997.5 31.6,997.5 33.1,997.5 34.6,997.5 36.1,997.5 37.6,997.5 39.1,997.5 40.6,997.5 42.0,997.5 43.5,997.5 45.0,997.4 46.5,997.4 47.9,997.4 49.4,997.4 50.9,997.3 52.4,997.3 53.9,997.3 55.3,997.2 56.8,997.2 58.3,997.2 59.8,997.2 61.3,997.2 62.8,997.1 64.3,997.1 65.8,997.1 67.3,997.1 68.8,997.1 70.3,997.1 71.9,997.1 73.4,997.1 74.9,997.1 76.5,997.1 78.0,997.1 79.5,997.1 81.1,997.0 82.6,997.0 84.1,996.9 85.6,996.8 87.1,996.7 88.6,996.6 90.1,996.4 91.6,996.2 93.1,996.0 94.6,995.7 96.0,995.4 97.4,995.0 98.8,994.6 100.2,994.2 101.6,993.7 103.0,993.1 104.3,992.5 105.6,991.8 106.9,991.1 108.2,990.4 109.4,989.6 110.6,988.8 111.8,987.9 113.0,987.0 114.2,986.0 115.3,985.0 116.4,984.0 117.4,982.9 118.5,981.9 119.5,980.7 120.5,979.6 121.4,978.4 122.4,977.2 123.3,976.0 124.1,974.8 125.0,973.5 125.8,972.3 126.5,971.0 127.3,969.7 128.0,968.4 128.7,967.0 129.3,965.7 129.9,964.3 130.5,963.0 131.1,961.6 131.7,960.2 132.2,958.8 132.7,957.4 133.2,956.0 133.7,954.6 134.2,953.2 134.7,951.8 135.1,950.4 135.6,948.9 136.0,947.5 136.5,946.1 136.9,944.6 137.3,943.2 137.7,941.7 138.2,940.3 138.6,938.9 139.0,937.4 139.5,936.0 139.9,934.5 140.3,933.1 140.7,931.7 141.1,930.2 141.6,928.8 142.0,927.3 142.4,925.9 142.8,924.5 143.3,923.0 143.7,921.6 144.1,920.1 144.5,918.7 144.9,917.3 145.3,915.8 145.7,914.4 146.2,912.9 146.6,911.5 147.0,910.0 147.4,908.6 147.8,907.2 148.2,905.7 148.6,904.3 149.0,902.8 149.4,901.4 149.8,899.9 150.2,898.5 150.6,897.0 151.0,895.6 151.4,894.2 151.8,892.7 152.2,891.3 152.6,889.8 153.0,888.4 153.4,886.9 153.8,885.5 154.2,884.0 154.6,882.6 155.0,881.1 155.3,879.7 155.7,878.2 156.1,876.8 156.5,875.3 156.9,873.9 157.3,872.4 157.6,871.0 158.0,869.5 158.4,868.1 158.8,866.6 159.1,865.2 159.5,863.7 159.9,862.3 160.2,860.8 160.6,859.4 161.0,857.9 161.3,856.5 161.7,855.0 162.1,853.6 162.4,852.1 162.8,850.6 163.1,849.2 163.5,847.7 163.8,846.3 164.2,844.8 164.5,843.4 164.9,841.9 165.2,840.4 165.6,839.0 165.9,837.5 166.3,836.1 166.6,834.6 166.9,833.2 167.3,831.7 167.6,830.2 167.9,828.8 168.3,827.3 168.6,825.9 168.9,824.4 169.2,822.9 169.6,821.5 169.9,820.0 170.2,818.5 170.5,817.1 170.8,815.6 171.2,814.2 171.5,812.7 171.8,811.2 172.1,809.8 172.4,808.3 172.7,806.8 173.0,805.4 173.3,803.9 173.6,802.4 173.9,801.0 174.2,799.5 174.5,798.0 174.8,796.6 175.0,795.1 175.3,793.6 175.6,792.1 175.9,790.7 176.2,789.2 176.5,787.7 176.7,786.3 177.0,784.8 177.3,783.3 177.5,781.8 177.8,780.4 178.1,778.9 178.3,777.4 178.6,775.9 178.8,774.5 179.1,773.0 179.3,771.5 179.6,770.0 179.8,768.6 180.1,767.1 180.3,765.6 180.6,764.1 180.8,762.6 181.1,761.2 181.3,759.7 181.5,758.2 181.8,756.7 182.0,755.2 182.2,753.8 182.5,752.3 182.7,750.8 182.9,749.3 183.1,747.8 183.4,746.4 183.6,744.9 183.8,743.4 184.0,741.9 184.2,740.4 184.5,739.0 184.7,737.5 184.9,736.0 185.1,734.5 185.3,733.0 185.5,731.5 185.7,730.0 185.9,728.6 186.1,727.1 186.3,725.6 186.5,724.1 186.7,722.6 187.0,721.1 187.2,719.7 187.4,718.2 187.6,716.7 187.8,715.2 188.0,713.7 188.2,712.2 188.4,710.7 188.5,709.3 188.7,707.8 188.9,706.3 189.1,704.8 189.3,703.3 189.5,701.8 189.7,700.3 189.9,698.9 190.1,697.4 190.3,695.9 190.5,694.4 190.7,692.9 190.9,691.4 191.1,689.9 191.3,688.5 191.4,687.0 191.6,685.5 191.8,684.0 192.0,682.5 192.2,681.0 192.4,679.5 192.6,678.0 192.8,676.6 193.0,675.1 193.2,673.6 193.4,672.1 193.5,670.6 193.7,669.1 193.9,667.7 194.1,666.2 194.3,664.7 194.5,663.2 194.7,661.7 194.9,660.2 195.1,658.7 195.3,657.3 195.5,655.8 195.7,654.3 195.9,652.8 196.1,651.3 196.3,649.9 196.5,648.4 196.7,646.9 196.9,645.4 197.1,643.9 197.3,642.4 197.5,641.0 197.7,639.5 197.9,638.0 198.1,636.5 198.3,635.0 198.5,633.6 198.7,632.1 198.9,630.6 199.1,629.1 199.4,627.6 199.6,626.2 199.8,624.7 200.0,623.2 200.2,621.7 200.4,620.3 200.7,618.8 200.9,617.3 201.1,615.8 201.3,614.4 201.6,612.9 201.8,611.4 202.0,609.9 202.2,608.5 202.5,607.0 202.7,605.5 202.9,604.1 203.2,602.6 203.4,601.1 203.7,599.6 204.0,598.2 204.3,596.7 204.6,595.2 204.9,593.7 205.3,592.2 205.6,590.7 206.1,589.3 206.5,587.8 207.0,586.2 207.5,584.7 208.1,583.2 208.7,581.7 209.4,580.2 210.1,578.6 210.8,577.2 211.6,575.8 212.5,574.5 213.3,573.5 214.2,572.7 215.1,572.2 216.0,572.0 216.9,572.2 217.8,572.7 218.7,573.5 219.5,574.6 220.4,575.8 221.2,577.2 222.0,578.8 222.8,580.4 223.5,582.0 224.2,583.7 224.9,585.3 225.5,586.8 226.1,588.4 226.6,589.9 227.1,591.4 227.6,592.8 228.0,594.3 228.4,595.7 228.8,597.1 229.2,598.5 229.6,599.9 230.0,601.3 230.3,602.7 230.7,604.2 231.1,605.6 231.4,607.0 231.8,608.5 232.2,609.9 232.6,611.4 232.9,612.8 233.3,614.3 233.7,615.7 234.1,617.2 234.5,618.6 235.0,620.1 235.4,621.5 235.8,622.9 236.3,624.4 236.7,625.8 237.2,627.2 237.6,628.6 238.0,630.1 238.5,631.5 238.9,632.9 239.4,634.3 239.8,635.7 240.3,637.2 240.7,638.6 241.2,640.0 241.6,641.4 242.0,642.9 242.4,644.3 242.8,645.7 243.2,647.2 243.6,648.6 244.0,650.0 244.4,651.5 244.8,652.9 245.2,654.4 245.5,655.8 245.9,657.3 246.3,658.7 246.6,660.2 247.0,661.6 247.3,663.1 247.7,664.5 248.1,666.0 248.4,667.4 248.8,668.9 249.1,670.3 249.4,671.8 249.8,673.2 250.1,674.7 250.5,676.2 250.8,677.6 251.2,679.1 251.5,680.5 251.9,682.0 252.2,683.4 252.6,684.9 252.9,686.3 253.3,687.8 253.6,689.2 254.0,690.7 254.4,692.1 254.7,693.6 255.1,695.0 255.5,696.5 255.9,697.9 256.3,699.4 256.7,700.8 257.0,702.3 257.5,703.7 257.9,705.1 258.3,706.6 258.7,708.0 259.1,709.4 259.6,710.8 260.0,712.3 260.5,713.7 260.9,715.1 261.4,716.5 261.9,717.9 262.3,719.3 262.8,720.7 263.3,722.1 263.8,723.6 264.3,725.0 264.8,726.4 265.3,727.8 265.9,729.1 266.4,730.5 266.9,731.9 267.4,733.3 268.0,734.7 268.5,736.1 269.1,737.5 269.6,738.9 270.2,740.3 270.7,741.7 271.3,743.1 271.8,744.4 272.4,745.8 273.0,747.2 273.5,748.6 274.1,750.0 274.7,751.4 275.2,752.8 275.8,754.1 276.4,755.5 276.9,756.9 277.5,758.3 278.1,759.7 278.6,761.1 279.2,762.5 279.8,763.9 280.4,765.2 280.9,766.6 281.5,768.0 282.0,769.4 282.6,770.8 283.2,772.2 283.7,773.6 284.3,775.0 284.8,776.4 285.4,777.8 285.9,779.2 286.5,780.6 287.0,782.0 287.6,783.4 288.1,784.8 288.7,786.3 289.2,787.7 289.7,789.1 290.3,790.5 290.8,791.9 291.4,793.3 291.9,794.7 292.5,796.1 293.0,797.5 293.6,798.9 294.1,800.3 294.7,801.7 295.2,803.1 295.8,804.5 296.4,805.9 296.9,807.3 297.5,808.7 298.1,810.1 298.7,811.4 299.3,812.8 299.9,814.2 300.5,815.6 301.1,817.0 301.7,818.3 302.3,819.7 302.9,821.0 303.6,822.4 304.2,823.8 304.8,825.1 305.5,826.4 306.2,827.8 306.8,829.1 307.5,830.4 308.2,831.8 308.9,833.1 309.6,834.4 310.3,835.7 311.1,837.0 311.8,838.3 312.5,839.6 313.3,840.8 314.1,842.1 314.9,843.4 315.7,844.6 316.5,845.9 317.3,847.1 318.1,848.4 318.9,849.6 319.8,850.8 320.6,852.1 321.5,853.3 322.4,854.5 323.3,855.7 324.1,856.9 325.0,858.1 325.9,859.3 326.8,860.5 327.8,861.7 328.7,862.9 329.6,864.1 330.5,865.2 331.4,866.4 332.4,867.6 333.3,868.8 334.2,869.9 335.2,871.1 336.1,872.3 337.0,873.5 338.0,874.6 338.9,875.8 339.9,877.0 340.8,878.1 341.7,879.3 342.6,880.5 343.6,881.7 344.5,882.8 345.4,884.0 346.3,885.2 347.3,886.4 348.2,887.6 349.1,888.8 350.0,889.9 350.9,891.1 351.7,892.3 352.6,893.5 353.5,894.7 354.4,896.0 355.2,897.2 356.1,898.4 356.9,899.6 357.8,900.8 358.6,902.1 359.4,903.3 360.2,904.5 361.1,905.8 361.9,907.0 362.7,908.2 363.5,909.5 364.2,910.8 365.0,912.0 365.8,913.3 366.6,914.5 367.3,915.8 368.1,917.1 368.9,918.4 369.6,919.7 370.3,920.9 371.1,922.2 371.8,923.5 372.5,924.8 373.2,926.1 373.9,927.4 374.6,928.8 375.3,930.1 376.0,931.4 376.7,932.7 377.4,934.1 378.1,935.4 378.7,936.7 379.4,938.1 380.1,939.4 380.7,940.8 381.4,942.1 382.0,943.5 382.6,944.9 383.3,946.3 383.9,947.6 384.5,949.0 385.1,950.4 385.7,951.8 386.3,953.2 386.9,954.6 387.5,956.0 388.1,957.4 388.7,958.8 389.3,960.2 389.9,961.6 390.6,963.0 391.3,964.4 392.0,965.7 392.8,967.0 393.6,968.3 394.5,969.5 395.4,970.7 396.4,971.9 397.5,973.0 398.6,974.1 399.7,975.0 400.9,976.0 402.1,976.8 403.4,977.6 404.6,978.2 405.9,978.8 407.3,979.2 408.6,979.6 409.9,979.8 411.3,979.9 412.7,979.9 414.1,979.8 415.5,979.6 416.9,979.3 418.3,978.9 419.7,978.4 421.1,977.9 422.6,977.3 424.0,976.7 425.4,976.1 426.9,975.4 428.3,974.7 429.8,974.0 431.2,973.4 432.7,972.7 434.2,972.1 435.6,971.5 437.1,970.9 438.6,970.4 440.0,969.9 441.5,969.6 443.0,969.3 444.4,969.1 445.9,968.9 447.3,968.9 448.8,968.9 450.3,969.0 451.7,969.1 453.2,969.4 454.6,969.6 456.1,969.9 457.5,970.2 459.0,970.6 460.4,971.0 461.9,971.4 463.3,971.9 464.7,972.3 466.2,972.8 467.6,973.3 469.0,973.8 470.4,974.4 471.7,974.9 473.1,975.5 474.4,976.2 475.7,976.8 477.0,977.5 478.3,978.2 479.5,979.0 480.8,979.7 482.1,980.5 483.3,981.3 484.6,982.2 485.9,983.0 487.1,983.9 488.4,984.8 489.7,985.6 491.0,986.5 492.4,987.3 493.7,988.1 495.0,988.9 496.4,989.6 497.8,990.3 499.1,990.9 500.5,991.5 501.9,992.1 503.3,992.6 504.7,993.0 506.1,993.4 507.6,993.8 509.0,994.1 510.5,994.5 511.9,994.7 513.4,994.9 514.8,995.1 516.3,995.3 517.8,995.4 519.3,995.5 520.7,995.6 522.2,995.6 523.7,995.6 525.2,995.6 526.7,995.6 528.2,995.5 529.7,995.4 531.2,995.3 532.7,995.2 534.2,995.1 535.7,994.9 537.2,994.7 538.7,994.5 540.2,994.3 541.7,994.0 543.2,993.8 544.7,993.5 546.2,993.3 547.7,993.0 549.2,992.7 550.6,992.4 552.1,992.1 553.6,991.8 555.0,991.5 556.5,991.2 557.9,990.9 559.4,990.6 560.8,990.3 562.2,990.0 563.7,989.7 565.1,989.4 566.5,989.1" fill="none" stroke="#0000ff" stroke-width="3.9" stroke-linejoin="round" stroke-linecap="butt" clip-path="url(#cD)"/>
<path d="M19.5,997.7V989.7M201.9,997.7V989.7M384.3,997.7V989.7M566.7,997.7V989.7M19.5,935.4H27.5M566.7,935.4H558.7M19.5,873.0H27.5M566.7,873.0H558.7M19.5,810.7H27.5M566.7,810.7H558.7M19.5,748.4H27.5M566.7,748.4H558.7M19.5,686.1H27.5M566.7,686.1H558.7M19.5,623.7H27.5M566.7,623.7H558.7" stroke="#000" stroke-width="1.6" fill="none"/>
<rect x="19.5" y="561.4" width="547.2" height="436.3" fill="none" stroke="#222" stroke-width="1.9"/>
<text transform="translate(19.5,1016.9) scale(0.965,1)" text-anchor="middle" class="t" font-size="22.4">−1</text>
<text transform="translate(201.9,1016.9) scale(0.965,1)" text-anchor="middle" class="t" font-size="22.4">0</text>
<text transform="translate(384.3,1016.9) scale(0.965,1)" text-anchor="middle" class="t" font-size="22.4">1</text>
<text transform="translate(566.7,1016.9) scale(0.965,1)" text-anchor="middle" class="t" font-size="22.4">2</text>
<text x="323.0" y="551.6" text-anchor="middle" class="t" font-size="33.6">Expected Outcome</text>
<text transform="translate(404.2,598.2) scale(1.022,1)" class="t" font-size="29.0">p = 0.07</text>
<text x="16.3" y="548.0" class="l" font-weight="bold" font-size="33.3">D</text>
<clipPath id="cE"><rect x="676.0" y="560.4" width="548.8" height="437.3"/></clipPath>
<path d="M675.8,955.1 677.0,954.1 678.1,953.1 679.3,952.1 680.5,951.1 681.6,950.2 682.8,949.3 684.0,948.3 685.2,947.4 686.4,946.5 687.6,945.6 688.8,944.7 690.0,943.9 691.3,943.0 692.5,942.2 693.7,941.3 695.0,940.5 696.2,939.7 697.5,938.9 698.8,938.1 700.0,937.3 701.3,936.5 702.6,935.8 703.8,935.0 705.1,934.3 706.4,933.5 707.7,932.8 709.0,932.1 710.3,931.4 711.6,930.7 713.0,930.0 714.3,929.3 715.6,928.6 716.9,928.0 718.3,927.3 719.6,926.7 720.9,926.0 722.3,925.4 723.6,924.7 725.0,924.1 726.4,923.5 727.7,922.9 729.1,922.3 730.5,921.7 731.8,921.1 733.2,920.5 734.6,919.9 736.0,919.3 737.3,918.7 738.7,918.2 740.1,917.6 741.5,917.0 742.9,916.5 744.3,915.9 745.7,915.3 747.1,914.8 748.5,914.2 749.9,913.7 751.3,913.2 752.8,912.6 754.2,912.1 755.6,911.5 757.0,911.0 758.4,910.5 759.9,909.9 761.3,909.4 762.7,908.9 764.1,908.3 765.5,907.8 767.0,907.2 768.4,906.7 769.8,906.1 771.2,905.6 772.6,905.0 774.0,904.5 775.4,903.9 776.8,903.3 778.2,902.7 779.6,902.1 781.0,901.5 782.3,900.9 783.7,900.3 785.1,899.6 786.4,899.0 787.7,898.3 789.1,897.7 790.4,897.0 791.7,896.3 793.0,895.6 794.3,894.9 795.6,894.1 796.9,893.4 798.1,892.6 799.4,891.8 800.6,891.0 801.8,890.2 803.0,889.3 804.2,888.5 805.4,887.6 806.6,886.7 807.8,885.8 808.9,884.9 810.1,883.9 811.2,883.0 812.3,882.0 813.4,881.1 814.5,880.1 815.6,879.1 816.7,878.0 817.8,877.0 818.8,876.0 819.9,874.9 820.9,873.9 822.0,872.8 823.0,871.7 824.0,870.6 825.0,869.5 826.0,868.4 827.0,867.3 828.0,866.2 829.0,865.1 829.9,863.9 830.9,862.8 831.8,861.6 832.8,860.4 833.7,859.3 834.7,858.1 835.6,856.9 836.5,855.7 837.4,854.5 838.3,853.4 839.2,852.2 840.1,851.0 841.0,849.7 841.9,848.5 842.8,847.3 843.7,846.1 844.5,844.9 845.4,843.7 846.3,842.4 847.1,841.2 848.0,839.9 848.8,838.7 849.7,837.5 850.5,836.2 851.3,835.0 852.1,833.7 853.0,832.4 853.8,831.2 854.6,829.9 855.4,828.6 856.2,827.4 857.0,826.1 857.8,824.8 858.5,823.5 859.3,822.2 860.1,821.0 860.9,819.7 861.6,818.4 862.4,817.1 863.1,815.8 863.9,814.5 864.6,813.2 865.4,811.8 866.1,810.5 866.8,809.2 867.6,807.9 868.3,806.6 869.0,805.3 869.7,803.9 870.4,802.6 871.1,801.3 871.8,799.9 872.5,798.6 873.2,797.3 873.9,795.9 874.6,794.6 875.3,793.3 876.0,791.9 876.6,790.6 877.3,789.2 878.0,787.9 878.6,786.5 879.3,785.2 879.9,783.8 880.6,782.5 881.2,781.1 881.9,779.7 882.5,778.4 883.2,777.0 883.8,775.7 884.4,774.3 885.0,772.9 885.7,771.6 886.3,770.2 886.9,768.8 887.5,767.5 888.1,766.1 888.7,764.7 889.3,763.3 889.9,762.0 890.5,760.6 891.1,759.2 891.7,757.8 892.3,756.5 892.9,755.1 893.4,753.7 894.0,752.3 894.6,750.9 895.2,749.6 895.7,748.2 896.3,746.8 896.9,745.4 897.4,744.0 898.0,742.7 898.5,741.3 899.1,739.9 899.6,738.5 900.2,737.1 900.7,735.8 901.3,734.4 901.8,733.0 902.4,731.6 902.9,730.2 903.5,728.8 904.0,727.5 904.5,726.1 905.1,724.7 905.6,723.3 906.2,721.9 906.7,720.6 907.3,719.2 907.8,717.8 908.3,716.4 908.9,715.0 909.4,713.7 910.0,712.3 910.5,710.9 911.1,709.5 911.6,708.1 912.2,706.8 912.7,705.4 913.3,704.0 913.8,702.6 914.4,701.2 914.9,699.9 915.5,698.5 916.1,697.1 916.6,695.7 917.2,694.4 917.8,693.0 918.3,691.6 918.9,690.2 919.5,688.9 920.1,687.5 920.7,686.1 921.3,684.8 921.9,683.4 922.5,682.0 923.1,680.7 923.7,679.3 924.3,677.9 924.9,676.6 925.5,675.2 926.2,673.8 926.8,672.5 927.4,671.1 928.1,669.7 928.7,668.4 929.4,667.0 930.0,665.7 930.7,664.3 931.4,662.9 932.1,661.6 932.7,660.2 933.4,658.9 934.1,657.5 934.8,656.2 935.6,654.8 936.3,653.5 937.0,652.1 937.7,650.8 938.5,649.4 939.2,648.1 940.0,646.8 940.8,645.4 941.5,644.1 942.3,642.7 943.1,641.4 943.9,640.1 944.7,638.7 945.5,637.4 946.4,636.1 947.2,634.8 948.0,633.5 948.9,632.2 949.8,630.9 950.7,629.6 951.6,628.3 952.5,627.1 953.4,625.8 954.4,624.6 955.3,623.4 956.3,622.3 957.3,621.1 958.3,620.0 959.3,618.9 960.4,617.8 961.5,616.7 962.5,615.7 963.7,614.7 964.8,613.7 965.9,612.8 967.1,611.9 968.3,611.1 969.5,610.2 970.8,609.4 972.0,608.7 973.3,608.0 974.6,607.3 975.9,606.7 977.2,606.1 978.6,605.6 979.9,605.1 981.2,604.7 982.6,604.3 984.0,604.0 985.4,603.7 986.7,603.5 988.1,603.3 989.5,603.2 990.9,603.2 992.3,603.2 993.7,603.2 995.1,603.4 996.5,603.5 997.9,603.8 999.3,604.1 1000.7,604.4 1002.0,604.8 1003.4,605.2 1004.8,605.7 1006.1,606.2 1007.5,606.8 1008.8,607.4 1010.1,608.0 1011.4,608.7 1012.7,609.5 1014.0,610.2 1015.3,611.0 1016.5,611.9 1017.8,612.8 1019.0,613.7 1020.2,614.6 1021.4,615.5 1022.6,616.5 1023.7,617.5 1024.9,618.5 1026.0,619.6 1027.1,620.7 1028.2,621.7 1029.3,622.8 1030.4,623.9 1031.5,625.0 1032.6,626.1 1033.6,627.2 1034.7,628.4 1035.7,629.5 1036.8,630.6 1037.8,631.8 1038.8,632.9 1039.8,634.0 1040.8,635.2 1041.8,636.3 1042.8,637.5 1043.8,638.6 1044.8,639.8 1045.8,641.0 1046.7,642.1 1047.7,643.3 1048.6,644.5 1049.6,645.7 1050.5,646.9 1051.5,648.0 1052.4,649.2 1053.3,650.4 1054.2,651.6 1055.1,652.8 1056.0,654.0 1056.9,655.2 1057.8,656.4 1058.7,657.7 1059.6,658.9 1060.4,660.1 1061.3,661.3 1062.2,662.5 1063.0,663.8 1063.9,665.0 1064.7,666.2 1065.6,667.5 1066.4,668.7 1067.2,670.0 1068.1,671.2 1068.9,672.5 1069.7,673.7 1070.5,675.0 1071.3,676.2 1072.1,677.5 1072.9,678.7 1073.7,680.0 1074.5,681.3 1075.3,682.5 1076.1,683.8 1076.9,685.1 1077.7,686.3 1078.4,687.6 1079.2,688.9 1080.0,690.2 1080.8,691.4 1081.5,692.7 1082.3,694.0 1083.0,695.3 1083.8,696.6 1084.6,697.9 1085.3,699.2 1086.1,700.5 1086.8,701.7 1087.5,703.0 1088.3,704.3 1089.0,705.6 1089.8,706.9 1090.5,708.2 1091.2,709.5 1092.0,710.8 1092.7,712.1 1093.4,713.4 1094.2,714.7 1094.9,716.0 1095.6,717.3 1096.4,718.6 1097.1,719.9 1097.8,721.3 1098.5,722.6 1099.3,723.9 1100.0,725.2 1100.7,726.5 1101.4,727.8 1102.2,729.1 1102.9,730.4 1103.6,731.7 1104.3,733.0 1105.0,734.4 1105.8,735.7 1106.5,737.0 1107.2,738.3 1107.9,739.6 1108.6,740.9 1109.4,742.2 1110.1,743.5 1110.8,744.8 1111.5,746.2 1112.2,747.5 1113.0,748.8 1113.7,750.1 1114.4,751.4 1115.1,752.7 1115.8,754.0 1116.6,755.4 1117.3,756.7 1118.0,758.0 1118.7,759.3 1119.5,760.6 1120.2,761.9 1120.9,763.2 1121.6,764.6 1122.3,765.9 1123.1,767.2 1123.8,768.5 1124.5,769.8 1125.2,771.1 1126.0,772.4 1126.7,773.8 1127.4,775.1 1128.1,776.4 1128.9,777.7 1129.6,779.0 1130.3,780.3 1131.0,781.6 1131.8,782.9 1132.5,784.3 1133.2,785.6 1133.9,786.9 1134.7,788.2 1135.4,789.5 1136.1,790.8 1136.9,792.1 1137.6,793.4 1138.3,794.7 1139.1,796.0 1139.8,797.3 1140.5,798.7 1141.3,800.0 1142.0,801.3 1142.8,802.6 1143.5,803.9 1144.2,805.2 1145.0,806.5 1145.7,807.8 1146.5,809.1 1147.2,810.4 1148.0,811.7 1148.7,813.0 1149.5,814.3 1150.2,815.6 1151.0,816.9 1151.7,818.2 1152.5,819.5 1153.2,820.8 1154.0,822.1 1154.7,823.4 1155.5,824.7 1156.3,826.0 1157.0,827.2 1157.8,828.5 1158.5,829.8 1159.3,831.1 1160.1,832.4 1160.8,833.7 1161.6,835.0 1162.4,836.3 1163.1,837.5 1163.9,838.8 1164.7,840.1 1165.5,841.4 1166.3,842.7 1167.0,844.0 1167.8,845.2 1168.6,846.5 1169.4,847.8 1170.2,849.1 1171.0,850.3 1171.8,851.6 1172.5,852.9 1173.3,854.1 1174.1,855.4 1174.9,856.7 1175.7,858.0 1176.5,859.2 1177.3,860.5 1178.1,861.7 1179.0,863.0 1179.8,864.3 1180.6,865.5 1181.4,866.8 1182.2,868.0 1183.0,869.3 1183.8,870.5 1184.7,871.8 1185.5,873.0 1186.3,874.3 1187.1,875.5 1188.0,876.8 1188.8,878.0 1189.6,879.3 1190.5,880.5 1191.3,881.7 1192.2,883.0 1193.0,884.2 1193.9,885.5 1194.7,886.7 1195.6,887.9 1196.4,889.2 1197.3,890.4 1198.1,891.6 1199.0,892.8 1199.8,894.1 1200.7,895.3 1201.6,896.5 1202.5,897.7 1203.3,898.9 1204.2,900.1 1205.1,901.3 1206.0,902.6 1206.9,903.8 1207.7,905.0 1208.6,906.2 1209.5,907.4 1210.4,908.6 1211.3,909.8 1212.2,911.0 1213.1,912.2 1214.0,913.4 1215.0,914.6 1215.9,915.7 1216.8,916.9 1217.7,918.1 1218.6,919.3 1219.5,920.5 1220.5,921.6 1221.4,922.8 1222.3,924.0 1223.3,925.2 1224.2,926.3 1225.2,927.5" fill="none" stroke="#ff0000" stroke-width="3.9" stroke-linejoin="round" stroke-linecap="butt" clip-path="url(#cE)"/>
<path d="M675.9,956.0 677.0,955.0 678.1,954.1 679.2,953.1 680.3,952.1 681.4,951.1 682.5,950.1 683.6,949.1 684.7,948.1 685.8,947.0 686.8,946.0 687.9,945.0 689.0,943.9 690.1,942.8 691.1,941.8 692.2,940.7 693.3,939.7 694.3,938.6 695.4,937.5 696.5,936.5 697.6,935.4 698.6,934.3 699.7,933.3 700.8,932.2 701.9,931.2 703.0,930.1 704.1,929.1 705.2,928.1 706.3,927.0 707.4,926.0 708.5,925.0 709.7,924.0 710.8,923.1 712.0,922.1 713.1,921.1 714.3,920.2 715.5,919.3 716.6,918.4 717.8,917.5 719.0,916.6 720.3,915.7 721.5,914.9 722.7,914.0 724.0,913.2 725.2,912.4 726.5,911.5 727.7,910.7 729.0,909.9 730.2,909.2 731.5,908.4 732.8,907.6 734.1,906.8 735.4,906.0 736.6,905.3 737.9,904.5 739.2,903.8 740.5,903.0 741.8,902.3 743.1,901.5 744.4,900.7 745.7,900.0 747.0,899.2 748.3,898.5 749.6,897.7 750.9,897.0 752.2,896.2 753.5,895.4 754.8,894.6 756.0,893.9 757.3,893.1 758.6,892.3 759.9,891.5 761.1,890.7 762.4,889.9 763.7,889.1 764.9,888.2 766.2,887.4 767.4,886.6 768.7,885.8 769.9,884.9 771.1,884.1 772.4,883.2 773.6,882.4 774.8,881.5 776.1,880.6 777.3,879.7 778.5,878.9 779.7,878.0 780.9,877.1 782.1,876.2 783.3,875.3 784.5,874.4 785.7,873.5 786.9,872.6 788.1,871.6 789.2,870.7 790.4,869.8 791.6,868.8 792.7,867.9 793.9,866.9 795.0,866.0 796.2,865.0 797.3,864.0 798.4,863.1 799.6,862.1 800.7,861.1 801.8,860.1 802.9,859.1 804.0,858.1 805.2,857.1 806.3,856.1 807.3,855.1 808.4,854.1 809.5,853.0 810.6,852.0 811.7,851.0 812.7,849.9 813.8,848.9 814.8,847.8 815.9,846.8 816.9,845.7 818.0,844.6 819.0,843.6 820.0,842.5 821.0,841.4 822.0,840.3 823.1,839.2 824.1,838.1 825.0,837.0 826.0,835.9 827.0,834.8 828.0,833.6 829.0,832.5 829.9,831.4 830.9,830.2 831.8,829.1 832.8,827.9 833.7,826.8 834.6,825.6 835.5,824.4 836.5,823.3 837.4,822.1 838.3,820.9 839.2,819.7 840.0,818.5 840.9,817.3 841.8,816.1 842.7,814.9 843.5,813.7 844.4,812.5 845.2,811.3 846.1,810.0 846.9,808.8 847.8,807.6 848.6,806.3 849.4,805.1 850.2,803.8 851.1,802.6 851.9,801.3 852.7,800.1 853.5,798.8 854.3,797.5 855.0,796.3 855.8,795.0 856.6,793.7 857.4,792.4 858.1,791.1 858.9,789.9 859.7,788.6 860.4,787.3 861.2,786.0 861.9,784.7 862.6,783.4 863.4,782.1 864.1,780.7 864.8,779.4 865.5,778.1 866.2,776.8 867.0,775.5 867.7,774.1 868.4,772.8 869.1,771.5 869.8,770.1 870.4,768.8 871.1,767.5 871.8,766.1 872.5,764.8 873.2,763.4 873.8,762.1 874.5,760.7 875.2,759.4 875.8,758.0 876.5,756.7 877.1,755.3 877.8,754.0 878.4,752.6 879.1,751.2 879.7,749.9 880.3,748.5 881.0,747.2 881.6,745.8 882.2,744.4 882.9,743.0 883.5,741.7 884.1,740.3 884.7,738.9 885.3,737.6 885.9,736.2 886.5,734.8 887.1,733.4 887.8,732.0 888.3,730.7 888.9,729.3 889.5,727.9 890.1,726.5 890.7,725.1 891.3,723.8 891.9,722.4 892.5,721.0 893.1,719.6 893.6,718.2 894.2,716.8 894.8,715.5 895.4,714.1 896.0,712.7 896.5,711.3 897.1,709.9 897.7,708.6 898.3,707.2 898.8,705.8 899.4,704.4 900.0,703.0 900.6,701.7 901.1,700.3 901.7,698.9 902.3,697.5 902.9,696.2 903.5,694.8 904.1,693.4 904.7,692.1 905.3,690.7 905.9,689.3 906.5,688.0 907.1,686.6 907.7,685.3 908.3,683.9 908.9,682.5 909.5,681.2 910.2,679.8 910.8,678.5 911.4,677.1 912.1,675.8 912.7,674.5 913.4,673.1 914.0,671.8 914.7,670.5 915.4,669.1 916.1,667.8 916.7,666.5 917.4,665.2 918.1,663.9 918.8,662.5 919.6,661.2 920.3,659.9 921.0,658.6 921.8,657.3 922.5,656.0 923.3,654.8 924.0,653.5 924.8,652.2 925.6,650.9 926.4,649.6 927.2,648.4 928.0,647.1 928.9,645.8 929.7,644.6 930.5,643.3 931.4,642.1 932.3,640.9 933.2,639.6 934.1,638.4 935.0,637.2 935.9,635.9 936.8,634.7 937.8,633.5 938.7,632.3 939.7,631.1 940.7,629.9 941.7,628.7 942.7,627.6 943.7,626.4 944.8,625.2 945.8,624.0 946.9,622.9 948.0,621.8 949.1,620.7 950.2,619.6 951.3,618.5 952.5,617.5 953.7,616.6 954.8,615.7 956.0,614.8 957.2,614.0 958.4,613.3 959.7,612.6 960.9,612.1 962.2,611.6 963.5,611.1 964.8,610.8 966.1,610.6 967.4,610.5 968.7,610.5 970.1,610.6 971.4,610.8 972.8,611.1 974.2,611.5 975.6,612.0 976.9,612.6 978.3,613.3 979.7,614.0 981.1,614.8 982.4,615.6 983.7,616.5 985.1,617.4 986.4,618.3 987.6,619.3 988.9,620.3 990.1,621.4 991.3,622.4 992.5,623.5 993.6,624.5 994.7,625.6 995.8,626.7 996.8,627.8 997.9,628.8 998.9,630.0 999.9,631.1 1000.9,632.2 1001.9,633.3 1002.8,634.4 1003.8,635.6 1004.7,636.7 1005.6,637.9 1006.6,639.0 1007.5,640.2 1008.4,641.3 1009.3,642.5 1010.2,643.7 1011.1,644.9 1012.1,646.0 1013.0,647.2 1013.9,648.4 1014.8,649.6 1015.7,650.7 1016.7,651.9 1017.6,653.1 1018.5,654.2 1019.5,655.4 1020.4,656.6 1021.4,657.7 1022.3,658.9 1023.3,660.0 1024.3,661.1 1025.3,662.2 1026.3,663.4 1027.3,664.5 1028.3,665.6 1029.3,666.7 1030.3,667.7 1031.4,668.8 1032.4,669.9 1033.4,671.0 1034.5,672.1 1035.5,673.1 1036.6,674.2 1037.6,675.2 1038.7,676.3 1039.8,677.4 1040.8,678.4 1041.9,679.5 1043.0,680.5 1044.1,681.5 1045.1,682.6 1046.2,683.6 1047.3,684.7 1048.4,685.7 1049.5,686.8 1050.5,687.8 1051.6,688.8 1052.7,689.9 1053.8,690.9 1054.9,692.0 1055.9,693.0 1057.0,694.0 1058.1,695.1 1059.2,696.1 1060.2,697.2 1061.3,698.3 1062.4,699.3 1063.4,700.4 1064.5,701.4 1065.5,702.5 1066.6,703.6 1067.6,704.7 1068.7,705.7 1069.7,706.8 1070.7,707.9 1071.8,709.0 1072.8,710.1 1073.8,711.2 1074.8,712.3 1075.9,713.4 1076.9,714.5 1077.9,715.6 1078.9,716.7 1079.9,717.8 1080.9,719.0 1081.9,720.1 1082.9,721.2 1083.8,722.3 1084.8,723.5 1085.8,724.6 1086.8,725.8 1087.8,726.9 1088.7,728.0 1089.7,729.2 1090.6,730.3 1091.6,731.5 1092.5,732.7 1093.5,733.8 1094.4,735.0 1095.4,736.1 1096.3,737.3 1097.2,738.5 1098.2,739.7 1099.1,740.8 1100.0,742.0 1100.9,743.2 1101.8,744.4 1102.7,745.6 1103.6,746.8 1104.5,748.0 1105.4,749.2 1106.3,750.4 1107.2,751.6 1108.1,752.8 1108.9,754.0 1109.8,755.2 1110.7,756.4 1111.5,757.6 1112.4,758.9 1113.3,760.1 1114.1,761.3 1115.0,762.5 1115.8,763.8 1116.7,765.0 1117.5,766.2 1118.3,767.5 1119.2,768.7 1120.0,770.0 1120.8,771.2 1121.6,772.5 1122.5,773.7 1123.3,775.0 1124.1,776.2 1124.9,777.5 1125.7,778.7 1126.5,780.0 1127.3,781.3 1128.1,782.5 1128.9,783.8 1129.7,785.1 1130.5,786.3 1131.3,787.6 1132.1,788.9 1132.8,790.1 1133.6,791.4 1134.4,792.7 1135.2,794.0 1135.9,795.3 1136.7,796.5 1137.5,797.8 1138.3,799.1 1139.0,800.4 1139.8,801.7 1140.5,803.0 1141.3,804.3 1142.1,805.6 1142.8,806.9 1143.6,808.2 1144.3,809.5 1145.1,810.8 1145.8,812.1 1146.5,813.4 1147.3,814.7 1148.0,816.0 1148.8,817.3 1149.5,818.6 1150.2,819.9 1151.0,821.2 1151.7,822.5 1152.5,823.8 1153.2,825.1 1153.9,826.4 1154.6,827.7 1155.4,829.0 1156.1,830.3 1156.8,831.7 1157.6,833.0 1158.3,834.3 1159.0,835.6 1159.7,836.9 1160.4,838.2 1161.2,839.6 1161.9,840.9 1162.6,842.2 1163.3,843.5 1164.1,844.8 1164.8,846.1 1165.5,847.5 1166.2,848.8 1166.9,850.1 1167.6,851.4 1168.4,852.7 1169.1,854.1 1169.8,855.4 1170.5,856.7 1171.2,858.0 1171.9,859.3 1172.7,860.7 1173.4,862.0 1174.1,863.3 1174.8,864.6 1175.5,865.9 1176.2,867.3 1177.0,868.6 1177.7,869.9 1178.4,871.2 1179.1,872.5 1179.8,873.8 1180.6,875.2 1181.3,876.5 1182.0,877.8 1182.7,879.1 1183.5,880.4 1184.2,881.7 1184.9,883.0 1185.6,884.4 1186.4,885.7 1187.1,887.0 1187.8,888.3 1188.6,889.6 1189.3,890.9 1190.0,892.2 1190.8,893.5 1191.5,894.8 1192.2,896.1 1193.0,897.4 1193.7,898.7 1194.4,900.0 1195.2,901.3 1195.9,902.6 1196.7,903.9 1197.4,905.2 1198.2,906.5 1198.9,907.8 1199.7,909.1 1200.4,910.4 1201.2,911.7 1202.0,913.0 1202.7,914.3 1203.5,915.6 1204.2,916.9 1205.0,918.1 1205.8,919.4 1206.6,920.7 1207.3,922.0 1208.1,923.3 1208.9,924.5 1209.7,925.8 1210.5,927.1 1211.2,928.4 1212.0,929.6 1212.8,930.9 1213.6,932.2 1214.4,933.4 1215.2,934.7 1216.0,935.9 1216.8,937.2 1217.6,938.4 1218.5,939.7 1219.3,940.9 1220.1,942.2 1220.9,943.4 1221.7,944.7 1222.6,945.9 1223.4,947.2 1224.2,948.4 1225.1,949.6" fill="none" stroke="#0000ff" stroke-width="3.9" stroke-linejoin="round" stroke-linecap="butt" clip-path="url(#cE)"/>
<path d="M676.0,997.7V989.7M813.2,997.7V989.7M950.4,997.7V989.7M1087.6,997.7V989.7M1224.8,997.7V989.7M676.0,910.4H684.0M1224.8,910.4H1216.8M676.0,823.2H684.0M1224.8,823.2H1216.8M676.0,735.9H684.0M1224.8,735.9H1216.8M676.0,648.7H684.0M1224.8,648.7H1216.8" stroke="#000" stroke-width="1.6" fill="none"/>
<rect x="676.0" y="561.4" width="548.8" height="436.3" fill="none" stroke="#222" stroke-width="1.9"/>
<text transform="translate(676.0,1016.9) scale(0.965,1)" text-anchor="middle" class="t" font-size="22.4">−1.0</text>
<text transform="translate(813.2,1016.9) scale(0.965,1)" text-anchor="middle" class="t" font-size="22.4">−0.5</text>
<text transform="translate(950.4,1016.9) scale(0.965,1)" text-anchor="middle" class="t" font-size="22.4">0.0</text>
<text transform="translate(1087.6,1016.9) scale(0.965,1)" text-anchor="middle" class="t" font-size="22.4">0.5</text>
<text transform="translate(1224.8,1016.9) scale(0.965,1)" text-anchor="middle" class="t" font-size="22.4">1.0</text>
<text x="979.0" y="551.6" text-anchor="middle" class="t" font-size="33.6">Decision Value</text>
<text transform="translate(1056.6,595.8) scale(1.022,1)" class="t" font-size="29.0">p = 0.07</text>
<text x="676.3" y="548.0" class="l" font-weight="bold" font-size="33.3">E</text>
<clipPath id="cF"><rect x="1334.4" y="560.4" width="547.2" height="437.3"/></clipPath>
<path d="M1334.4,987.3 1335.8,986.6 1337.1,985.8 1338.4,985.0 1339.7,984.2 1340.9,983.3 1342.1,982.4 1343.3,981.4 1344.4,980.5 1345.5,979.5 1346.5,978.4 1347.6,977.4 1348.6,976.3 1349.5,975.2 1350.5,974.1 1351.4,972.9 1352.2,971.7 1353.1,970.5 1353.9,969.3 1354.7,968.0 1355.5,966.8 1356.3,965.5 1357.0,964.2 1357.7,962.9 1358.4,961.6 1359.1,960.2 1359.8,958.9 1360.4,957.5 1361.0,956.2 1361.7,954.8 1362.3,953.4 1362.9,952.0 1363.5,950.6 1364.0,949.2 1364.6,947.8 1365.2,946.4 1365.7,945.0 1366.3,943.6 1366.8,942.2 1367.4,940.8 1367.9,939.4 1368.5,938.0 1369.0,936.6 1369.5,935.2 1370.0,933.8 1370.6,932.3 1371.1,930.9 1371.6,929.5 1372.1,928.1 1372.6,926.7 1373.1,925.3 1373.5,923.9 1374.0,922.4 1374.5,921.0 1375.0,919.6 1375.4,918.2 1375.9,916.8 1376.4,915.3 1376.8,913.9 1377.3,912.5 1377.7,911.1 1378.2,909.6 1378.6,908.2 1379.1,906.8 1379.5,905.4 1379.9,903.9 1380.4,902.5 1380.8,901.1 1381.2,899.6 1381.6,898.2 1382.1,896.8 1382.5,895.3 1382.9,893.9 1383.3,892.5 1383.7,891.0 1384.1,889.6 1384.5,888.1 1384.9,886.7 1385.3,885.3 1385.7,883.8 1386.1,882.4 1386.5,880.9 1386.9,879.5 1387.2,878.0 1387.6,876.6 1388.0,875.2 1388.4,873.7 1388.8,872.3 1389.1,870.8 1389.5,869.4 1389.9,867.9 1390.3,866.5 1390.6,865.0 1391.0,863.6 1391.4,862.1 1391.7,860.6 1392.1,859.2 1392.5,857.7 1392.8,856.3 1393.2,854.8 1393.6,853.4 1393.9,851.9 1394.3,850.5 1394.6,849.0 1395.0,847.6 1395.4,846.1 1395.7,844.6 1396.1,843.2 1396.5,841.7 1396.8,840.3 1397.2,838.8 1397.5,837.4 1397.9,835.9 1398.3,834.5 1398.6,833.0 1399.0,831.5 1399.4,830.1 1399.7,828.6 1400.1,827.2 1400.5,825.7 1400.8,824.3 1401.2,822.8 1401.6,821.4 1401.9,819.9 1402.3,818.5 1402.7,817.0 1403.1,815.5 1403.4,814.1 1403.8,812.6 1404.2,811.2 1404.6,809.7 1405.0,808.3 1405.3,806.8 1405.7,805.4 1406.1,803.9 1406.5,802.5 1406.9,801.0 1407.3,799.6 1407.6,798.1 1408.0,796.7 1408.4,795.2 1408.8,793.8 1409.2,792.3 1409.6,790.9 1409.9,789.4 1410.3,788.0 1410.7,786.6 1411.1,785.1 1411.5,783.7 1411.8,782.2 1412.2,780.8 1412.6,779.3 1413.0,777.9 1413.3,776.4 1413.7,775.0 1414.1,773.5 1414.5,772.1 1414.8,770.6 1415.2,769.2 1415.6,767.7 1415.9,766.2 1416.3,764.8 1416.6,763.3 1417.0,761.9 1417.4,760.4 1417.7,759.0 1418.1,757.5 1418.4,756.1 1418.8,754.6 1419.1,753.2 1419.5,751.7 1419.8,750.2 1420.1,748.8 1420.5,747.3 1420.8,745.9 1421.1,744.4 1421.5,743.0 1421.8,741.5 1422.1,740.0 1422.5,738.6 1422.8,737.1 1423.1,735.7 1423.5,734.2 1423.8,732.7 1424.1,731.3 1424.4,729.8 1424.8,728.4 1425.1,726.9 1425.4,725.4 1425.7,724.0 1426.1,722.5 1426.4,721.0 1426.7,719.6 1427.0,718.1 1427.4,716.7 1427.7,715.2 1428.0,713.7 1428.3,712.3 1428.7,710.8 1429.0,709.3 1429.3,707.9 1429.6,706.4 1430.0,704.9 1430.3,703.5 1430.6,702.0 1431.0,700.5 1431.3,699.1 1431.6,697.6 1432.0,696.1 1432.3,694.7 1432.6,693.2 1433.0,691.8 1433.3,690.3 1433.7,688.8 1434.0,687.4 1434.4,685.9 1434.7,684.4 1435.1,683.0 1435.4,681.5 1435.8,680.0 1436.2,678.6 1436.5,677.1 1436.9,675.7 1437.3,674.2 1437.6,672.8 1438.0,671.3 1438.4,669.9 1438.8,668.4 1439.2,667.0 1439.6,665.5 1440.0,664.1 1440.4,662.7 1440.8,661.3 1441.2,659.8 1441.6,658.4 1442.1,657.0 1442.5,655.6 1442.9,654.2 1443.4,652.8 1443.8,651.4 1444.3,650.0 1444.8,648.6 1445.3,647.2 1445.8,645.8 1446.3,644.5 1446.8,643.0 1447.4,641.6 1447.9,640.2 1448.5,638.8 1449.2,637.4 1449.8,635.9 1450.5,634.5 1451.2,633.0 1451.9,631.6 1452.6,630.1 1453.4,628.6 1454.2,627.2 1455.1,625.8 1455.9,624.5 1456.8,623.2 1457.8,622.0 1458.7,620.9 1459.7,619.9 1460.8,619.1 1461.8,618.4 1462.9,617.8 1464.0,617.4 1465.2,617.2 1466.4,617.2 1467.6,617.4 1468.9,617.8 1470.2,618.5 1471.5,619.3 1472.8,620.4 1474.1,621.5 1475.4,622.8 1476.7,624.1 1477.9,625.5 1479.1,626.8 1480.2,628.1 1481.2,629.4 1482.2,630.6 1483.1,631.9 1484.0,633.1 1484.9,634.3 1485.7,635.5 1486.6,636.7 1487.4,637.9 1488.2,639.2 1489.0,640.4 1489.8,641.6 1490.5,642.9 1491.3,644.2 1492.0,645.4 1492.7,646.7 1493.4,648.0 1494.2,649.3 1494.8,650.6 1495.5,651.9 1496.2,653.3 1496.9,654.6 1497.5,655.9 1498.2,657.3 1498.8,658.6 1499.4,659.9 1500.1,661.3 1500.7,662.7 1501.3,664.0 1501.9,665.4 1502.5,666.8 1503.0,668.2 1503.6,669.5 1504.2,670.9 1504.8,672.3 1505.3,673.7 1505.9,675.1 1506.4,676.5 1507.0,677.9 1507.5,679.3 1508.1,680.7 1508.6,682.1 1509.1,683.5 1509.7,684.9 1510.2,686.3 1510.7,687.8 1511.2,689.2 1511.8,690.6 1512.3,692.0 1512.8,693.4 1513.3,694.8 1513.8,696.2 1514.3,697.6 1514.9,699.0 1515.4,700.5 1515.9,701.9 1516.4,703.3 1516.9,704.7 1517.4,706.1 1517.9,707.5 1518.4,708.9 1518.9,710.4 1519.4,711.8 1519.9,713.2 1520.4,714.6 1520.9,716.0 1521.4,717.4 1521.9,718.9 1522.3,720.3 1522.8,721.7 1523.3,723.1 1523.8,724.5 1524.3,726.0 1524.8,727.4 1525.2,728.8 1525.7,730.2 1526.2,731.6 1526.7,733.1 1527.1,734.5 1527.6,735.9 1528.1,737.3 1528.5,738.7 1529.0,740.2 1529.5,741.6 1529.9,743.0 1530.4,744.4 1530.9,745.9 1531.3,747.3 1531.8,748.7 1532.3,750.1 1532.7,751.6 1533.2,753.0 1533.6,754.4 1534.1,755.8 1534.5,757.3 1535.0,758.7 1535.4,760.1 1535.9,761.5 1536.3,763.0 1536.8,764.4 1537.2,765.8 1537.7,767.2 1538.1,768.7 1538.6,770.1 1539.0,771.5 1539.5,773.0 1539.9,774.4 1540.4,775.8 1540.8,777.3 1541.2,778.7 1541.7,780.1 1542.1,781.5 1542.5,783.0 1543.0,784.4 1543.4,785.8 1543.9,787.3 1544.3,788.7 1544.7,790.1 1545.2,791.6 1545.6,793.0 1546.0,794.4 1546.5,795.9 1546.9,797.3 1547.3,798.7 1547.7,800.2 1548.2,801.6 1548.6,803.0 1549.0,804.5 1549.5,805.9 1549.9,807.3 1550.3,808.8 1550.7,810.2 1551.2,811.7 1551.6,813.1 1552.0,814.5 1552.4,816.0 1552.9,817.4 1553.3,818.8 1553.7,820.3 1554.2,821.7 1554.6,823.1 1555.0,824.6 1555.5,826.0 1555.9,827.4 1556.4,828.9 1556.8,830.3 1557.3,831.7 1557.8,833.1 1558.2,834.6 1558.7,836.0 1559.2,837.4 1559.7,838.8 1560.2,840.2 1560.7,841.6 1561.3,843.0 1561.8,844.4 1562.3,845.8 1562.9,847.2 1563.5,848.6 1564.1,850.0 1564.7,851.4 1565.3,852.8 1565.9,854.1 1566.5,855.5 1567.2,856.9 1567.9,858.2 1568.6,859.6 1569.3,860.9 1570.0,862.3 1570.7,863.6 1571.5,864.9 1572.3,866.2 1573.1,867.5 1574.0,868.7 1574.9,869.8 1575.8,871.0 1576.7,872.1 1577.7,873.1 1578.8,874.1 1579.8,875.0 1581.0,875.8 1582.1,876.6 1583.4,877.3 1584.6,877.9 1586.0,878.4 1587.4,878.8 1588.8,879.1 1590.3,879.4 1591.8,879.6 1593.3,879.8 1594.9,879.9 1596.5,880.0 1598.1,880.1 1599.7,880.1 1601.3,880.2 1602.8,880.3 1604.4,880.4 1606.0,880.6 1607.5,880.8 1609.0,881.0 1610.5,881.3 1611.9,881.7 1613.2,882.2 1614.5,882.8 1615.8,883.5 1616.9,884.3 1618.1,885.2 1619.1,886.1 1620.2,887.2 1621.2,888.3 1622.1,889.4 1623.0,890.7 1624.0,891.9 1624.9,893.2 1625.7,894.5 1626.6,895.9 1627.5,897.2 1628.4,898.5 1629.3,899.8 1630.2,901.1 1631.1,902.4 1632.1,903.6 1633.0,904.8 1634.1,905.9 1635.1,906.9 1636.2,907.9 1637.4,908.9 1638.6,909.8 1639.8,910.6 1641.0,911.5 1642.2,912.3 1643.5,913.0 1644.8,913.8 1646.0,914.5 1647.3,915.2 1648.6,916.0 1649.9,916.7 1651.2,917.4 1652.5,918.2 1653.7,918.9 1655.0,919.7 1656.2,920.5 1657.5,921.3 1658.7,922.1 1659.9,923.0 1661.1,923.8 1662.3,924.6 1663.5,925.5 1664.7,926.4 1665.9,927.3 1667.1,928.1 1668.3,929.0 1669.5,929.9 1670.7,930.9 1671.8,931.8 1673.0,932.7 1674.2,933.6 1675.3,934.6 1676.5,935.5 1677.6,936.5 1678.8,937.4 1679.9,938.4 1681.1,939.3 1682.2,940.3 1683.3,941.3 1684.5,942.3 1685.6,943.2 1686.8,944.2 1687.9,945.2 1689.1,946.2 1690.2,947.1 1691.4,948.1 1692.5,949.1 1693.6,950.1 1694.8,951.0 1696.0,952.0 1697.1,953.0 1698.3,953.9 1699.4,954.9 1700.6,955.9 1701.8,956.8 1702.9,957.8 1704.1,958.7 1705.3,959.7 1706.5,960.6 1707.7,961.5 1708.9,962.4 1710.1,963.4 1711.3,964.3 1712.5,965.2 1713.7,966.1 1714.9,967.0 1716.1,967.9 1717.4,968.7 1718.6,969.6 1719.8,970.5 1721.1,971.3 1722.3,972.2 1723.6,973.0 1724.8,973.8 1726.1,974.6 1727.3,975.4 1728.6,976.2 1729.9,977.0 1731.1,977.8 1732.4,978.5 1733.7,979.3 1735.0,980.0 1736.3,980.8 1737.6,981.5 1738.9,982.2 1740.2,982.9 1741.5,983.6 1742.9,984.2 1744.2,984.9 1745.5,985.5 1746.8,986.1 1748.2,986.7 1749.5,987.3 1750.9,987.9 1752.3,988.5 1753.6,989.0 1755.0,989.6 1756.4,990.1 1757.7,990.6 1759.1,991.1 1760.5,991.6 1761.9,992.0 1763.3,992.4 1764.7,992.9 1766.1,993.3 1767.6,993.7 1769.0,994.0 1770.4,994.4 1771.8,994.7 1773.3,995.0 1774.7,995.3 1776.2,995.6 1777.7,995.8 1779.1,996.0 1780.6,996.2 1782.1,996.4 1783.5,996.6 1785.0,996.8 1786.5,996.9 1788.0,997.0 1789.5,997.1 1791.1,997.1 1792.6,997.2 1794.1,997.2 1795.6,997.2 1797.2,997.1 1798.7,997.1 1800.3,997.0 1801.8,996.9 1803.4,996.8 1805.0,996.6 1806.6,996.4 1808.1,996.2 1809.7,996.0 1811.3,995.7 1812.9,995.5 1814.6,995.2" fill="none" stroke="#ff0000" stroke-width="3.9" stroke-linejoin="round" stroke-linecap="butt" clip-path="url(#cF)"/>
<path d="M1334.4,991.9 1335.8,991.3 1337.3,990.7 1338.7,990.0 1340.0,989.2 1341.3,988.4 1342.6,987.6 1343.8,986.8 1345.0,985.9 1346.1,985.0 1347.2,984.0 1348.3,983.0 1349.3,982.0 1350.3,980.9 1351.3,979.8 1352.2,978.7 1353.1,977.5 1354.0,976.4 1354.8,975.2 1355.6,973.9 1356.4,972.7 1357.2,971.4 1357.9,970.2 1358.6,968.8 1359.3,967.5 1360.0,966.2 1360.6,964.8 1361.3,963.5 1361.9,962.1 1362.5,960.7 1363.1,959.3 1363.6,957.9 1364.2,956.5 1364.7,955.1 1365.3,953.7 1365.8,952.2 1366.3,950.8 1366.8,949.4 1367.3,948.0 1367.8,946.5 1368.3,945.1 1368.8,943.7 1369.2,942.2 1369.7,940.8 1370.1,939.4 1370.6,937.9 1371.0,936.5 1371.5,935.0 1371.9,933.6 1372.3,932.2 1372.7,930.7 1373.2,929.3 1373.6,927.8 1374.0,926.4 1374.4,924.9 1374.8,923.5 1375.1,922.0 1375.5,920.6 1375.9,919.1 1376.3,917.7 1376.6,916.2 1377.0,914.8 1377.4,913.3 1377.7,911.9 1378.1,910.4 1378.4,909.0 1378.7,907.5 1379.1,906.1 1379.4,904.6 1379.8,903.1 1380.1,901.7 1380.4,900.2 1380.7,898.8 1381.0,897.3 1381.4,895.8 1381.7,894.4 1382.0,892.9 1382.3,891.5 1382.6,890.0 1382.9,888.5 1383.2,887.1 1383.5,885.6 1383.8,884.1 1384.1,882.7 1384.4,881.2 1384.7,879.7 1385.0,878.3 1385.3,876.8 1385.6,875.3 1385.9,873.9 1386.2,872.4 1386.5,870.9 1386.8,869.5 1387.0,868.0 1387.3,866.5 1387.6,865.1 1387.9,863.6 1388.2,862.1 1388.5,860.7 1388.8,859.2 1389.0,857.7 1389.3,856.2 1389.6,854.8 1389.9,853.3 1390.2,851.8 1390.4,850.4 1390.7,848.9 1391.0,847.4 1391.3,845.9 1391.5,844.5 1391.8,843.0 1392.1,841.5 1392.4,840.0 1392.6,838.6 1392.9,837.1 1393.2,835.6 1393.4,834.1 1393.7,832.7 1394.0,831.2 1394.2,829.7 1394.5,828.2 1394.8,826.8 1395.1,825.3 1395.3,823.8 1395.6,822.3 1395.8,820.9 1396.1,819.4 1396.4,817.9 1396.6,816.4 1396.9,815.0 1397.2,813.5 1397.4,812.0 1397.7,810.5 1398.0,809.1 1398.2,807.6 1398.5,806.1 1398.7,804.6 1399.0,803.2 1399.3,801.7 1399.5,800.2 1399.8,798.7 1400.0,797.2 1400.3,795.8 1400.5,794.3 1400.8,792.8 1401.1,791.3 1401.3,789.9 1401.6,788.4 1401.8,786.9 1402.1,785.4 1402.3,783.9 1402.6,782.5 1402.9,781.0 1403.1,779.5 1403.4,778.0 1403.6,776.6 1403.9,775.1 1404.1,773.6 1404.4,772.1 1404.6,770.6 1404.9,769.2 1405.2,767.7 1405.4,766.2 1405.7,764.7 1405.9,763.3 1406.2,761.8 1406.4,760.3 1406.7,758.8 1406.9,757.4 1407.2,755.9 1407.4,754.4 1407.7,752.9 1408.0,751.4 1408.2,750.0 1408.5,748.5 1408.7,747.0 1409.0,745.5 1409.2,744.1 1409.5,742.6 1409.7,741.1 1410.0,739.6 1410.3,738.2 1410.5,736.7 1410.8,735.2 1411.0,733.7 1411.3,732.3 1411.5,730.8 1411.8,729.3 1412.0,727.8 1412.3,726.4 1412.6,724.9 1412.8,723.4 1413.1,721.9 1413.3,720.5 1413.6,719.0 1413.8,717.5 1414.1,716.0 1414.4,714.6 1414.6,713.1 1414.9,711.6 1415.1,710.1 1415.4,708.7 1415.6,707.2 1415.9,705.7 1416.1,704.2 1416.4,702.8 1416.6,701.3 1416.9,699.8 1417.1,698.3 1417.4,696.9 1417.6,695.4 1417.9,693.9 1418.1,692.4 1418.4,690.9 1418.6,689.5 1418.9,688.0 1419.1,686.5 1419.4,685.0 1419.6,683.6 1419.9,682.1 1420.1,680.6 1420.4,679.1 1420.6,677.6 1420.8,676.1 1421.1,674.7 1421.3,673.2 1421.6,671.7 1421.8,670.2 1422.0,668.7 1422.3,667.2 1422.5,665.8 1422.8,664.3 1423.0,662.8 1423.3,661.3 1423.5,659.8 1423.8,658.4 1424.1,656.9 1424.4,655.4 1424.6,653.9 1424.9,652.4 1425.2,651.0 1425.6,649.5 1425.9,648.0 1426.2,646.6 1426.5,645.1 1426.8,643.7 1427.2,642.2 1427.5,640.8 1427.8,639.3 1428.1,637.9 1428.4,636.4 1428.8,635.0 1429.1,633.6 1429.4,632.1 1429.7,630.7 1429.9,629.3 1430.2,627.9 1430.5,626.5 1430.8,625.0 1431.1,623.6 1431.4,622.2 1431.7,620.7 1432.1,619.2 1432.4,617.8 1432.7,616.3 1433.1,614.8 1433.4,613.2 1433.8,611.7 1434.2,610.1 1434.6,608.5 1435.0,606.9 1435.5,605.3 1436.0,603.6 1436.5,601.9 1437.0,600.2 1437.5,598.4 1438.1,596.7 1438.7,595.1 1439.3,593.5 1439.9,591.9 1440.6,590.5 1441.3,589.2 1442.1,588.0 1442.8,587.0 1443.6,586.2 1444.5,585.6 1445.3,585.2 1446.2,585.0 1447.1,585.1 1448.1,585.4 1449.1,586.0 1450.0,586.7 1451.0,587.6 1452.1,588.7 1453.1,589.8 1454.0,591.1 1455.0,592.5 1456.0,593.9 1456.9,595.4 1457.8,596.8 1458.7,598.3 1459.5,599.8 1460.3,601.2 1461.1,602.7 1461.8,604.1 1462.5,605.5 1463.2,607.0 1463.9,608.4 1464.5,609.8 1465.1,611.2 1465.7,612.6 1466.3,614.0 1466.8,615.4 1467.4,616.8 1467.9,618.2 1468.4,619.6 1469.0,621.0 1469.5,622.3 1470.0,623.7 1470.5,625.1 1471.0,626.5 1471.5,627.9 1472.0,629.3 1472.6,630.7 1473.1,632.1 1473.6,633.5 1474.1,634.9 1474.6,636.3 1475.1,637.8 1475.6,639.2 1476.1,640.6 1476.6,642.0 1477.1,643.4 1477.6,644.8 1478.1,646.2 1478.6,647.6 1479.1,649.0 1479.6,650.5 1480.1,651.9 1480.6,653.3 1481.1,654.7 1481.6,656.1 1482.1,657.5 1482.6,659.0 1483.1,660.4 1483.6,661.8 1484.1,663.2 1484.6,664.6 1485.1,666.1 1485.6,667.5 1486.1,668.9 1486.6,670.3 1487.1,671.7 1487.6,673.2 1488.0,674.6 1488.5,676.0 1489.0,677.4 1489.5,678.8 1490.0,680.3 1490.5,681.7 1491.0,683.1 1491.5,684.5 1491.9,685.9 1492.4,687.4 1492.9,688.8 1493.4,690.2 1493.9,691.6 1494.4,693.0 1494.8,694.4 1495.3,695.9 1495.8,697.3 1496.3,698.7 1496.8,700.1 1497.2,701.5 1497.7,702.9 1498.2,704.4 1498.7,705.8 1499.2,707.2 1499.6,708.6 1500.1,710.0 1500.6,711.4 1501.1,712.8 1501.5,714.3 1502.0,715.7 1502.5,717.1 1503.0,718.5 1503.4,719.9 1503.9,721.3 1504.4,722.7 1504.9,724.1 1505.4,725.6 1505.8,727.0 1506.3,728.4 1506.8,729.8 1507.3,731.2 1507.7,732.6 1508.2,734.0 1508.7,735.5 1509.2,736.9 1509.7,738.3 1510.1,739.7 1510.6,741.1 1511.1,742.5 1511.6,743.9 1512.0,745.4 1512.5,746.8 1513.0,748.2 1513.5,749.6 1514.0,751.0 1514.5,752.4 1514.9,753.8 1515.4,755.3 1515.9,756.7 1516.4,758.1 1516.9,759.5 1517.4,760.9 1517.8,762.3 1518.3,763.8 1518.8,765.2 1519.3,766.6 1519.8,768.0 1520.3,769.4 1520.8,770.8 1521.3,772.3 1521.7,773.7 1522.2,775.1 1522.7,776.5 1523.2,777.9 1523.7,779.4 1524.2,780.8 1524.7,782.2 1525.2,783.6 1525.7,785.0 1526.2,786.5 1526.7,787.9 1527.2,789.3 1527.7,790.7 1528.2,792.1 1528.7,793.6 1529.2,795.0 1529.7,796.4 1530.2,797.8 1530.7,799.3 1531.2,800.7 1531.8,802.1 1532.3,803.5 1532.8,805.0 1533.3,806.4 1533.8,807.8 1534.3,809.3 1534.8,810.7 1535.4,812.1 1535.9,813.5 1536.4,815.0 1537.0,816.4 1537.5,817.8 1538.1,819.2 1538.6,820.6 1539.2,822.0 1539.8,823.4 1540.3,824.8 1540.9,826.2 1541.5,827.6 1542.1,828.9 1542.8,830.3 1543.4,831.6 1544.1,833.0 1544.7,834.3 1545.4,835.6 1546.1,837.0 1546.8,838.3 1547.5,839.5 1548.3,840.8 1549.0,842.1 1549.8,843.3 1550.6,844.6 1551.4,845.8 1552.3,847.0 1553.1,848.2 1554.0,849.3 1554.9,850.5 1555.8,851.6 1556.8,852.7 1557.7,853.8 1558.7,854.9 1559.7,856.0 1560.8,857.0 1561.8,858.0 1562.9,859.0 1564.1,860.0 1565.2,860.9 1566.4,861.7 1567.6,862.5 1568.9,863.2 1570.2,863.9 1571.5,864.4 1572.9,864.9 1574.3,865.3 1575.7,865.6 1577.2,865.8 1578.7,866.0 1580.2,866.0 1581.8,866.0 1583.4,865.9 1585.0,865.8 1586.6,865.7 1588.2,865.6 1589.7,865.5 1591.3,865.5 1592.9,865.5 1594.4,865.5 1595.9,865.7 1597.3,865.9 1598.8,866.3 1600.1,866.7 1601.5,867.2 1602.8,867.8 1604.1,868.4 1605.4,869.2 1606.6,870.0 1607.8,870.8 1608.9,871.7 1610.1,872.6 1611.2,873.6 1612.3,874.6 1613.4,875.7 1614.5,876.8 1615.5,877.9 1616.5,879.0 1617.5,880.1 1618.5,881.2 1619.5,882.4 1620.5,883.5 1621.4,884.7 1622.4,885.9 1623.3,887.0 1624.2,888.2 1625.1,889.4 1626.0,890.6 1626.9,891.8 1627.8,893.0 1628.7,894.2 1629.5,895.4 1630.4,896.6 1631.2,897.8 1632.0,899.0 1632.9,900.3 1633.7,901.5 1634.5,902.8 1635.3,904.0 1636.1,905.3 1636.9,906.5 1637.7,907.8 1638.5,909.1 1639.3,910.3 1640.0,911.6 1640.8,912.9 1641.6,914.2 1642.4,915.5 1643.1,916.8 1643.9,918.1 1644.7,919.4 1645.4,920.8 1646.2,922.1 1647.0,923.4 1647.7,924.8 1648.5,926.1 1649.3,927.4 1650.1,928.8 1650.9,930.1 1651.7,931.4 1652.5,932.7 1653.3,934.0 1654.1,935.3 1654.9,936.6 1655.8,937.8 1656.7,939.1 1657.5,940.3 1658.4,941.5 1659.4,942.7 1660.3,943.8 1661.3,945.0 1662.2,946.0 1663.2,947.1 1664.3,948.2 1665.3,949.2 1666.4,950.1 1667.5,951.1 1668.6,951.9 1669.8,952.8 1671.0,953.6 1672.2,954.4 1673.4,955.1 1674.7,955.8 1676.0,956.4 1677.3,957.0 1678.6,957.6 1680.0,958.0 1681.3,958.5 1682.7,958.9 1684.1,959.3 1685.6,959.6 1687.0,959.8 1688.5,960.0 1690.0,960.1 1691.5,960.2 1693.0,960.3 1694.5,960.3 1696.0,960.2 1697.5,960.2 1699.1,960.1 1700.6,960.0 1702.2,959.9 1703.7,959.9 1705.2,959.8 1706.8,959.8 1708.3,959.8 1709.8,959.9 1711.3,960.0 1712.8,960.1 1714.3,960.4 1715.8,960.6 1717.2,961.0 1718.6,961.3 1720.1,961.7 1721.5,962.2 1722.9,962.7 1724.3,963.2 1725.7,963.8 1727.1,964.4 1728.4,965.0 1729.8,965.7 1731.1,966.4 1732.4,967.1 1733.8,967.8 1735.1,968.5 1736.4,969.3 1737.7,970.0 1739.0,970.8 1740.3,971.6 1741.5,972.4 1742.8,973.2 1744.1,974.0 1745.4,974.8 1746.6,975.6 1747.9,976.4 1749.2,977.2 1750.4,978.0 1751.7,978.8 1753.0,979.6 1754.3,980.4 1755.6,981.2 1756.9,982.0 1758.2,982.7 1759.5,983.5 1760.8,984.2 1762.1,984.9 1763.4,985.6 1764.8,986.3 1766.1,986.9 1767.5,987.6 1768.8,988.2 1770.2,988.8 1771.6,989.4 1772.9,989.9 1774.3,990.5 1775.7,991.0 1777.1,991.5 1778.5,992.0 1780.0,992.4 1781.4,992.8 1782.8,993.3 1784.2,993.6 1785.7,994.0 1787.1,994.3 1788.6,994.7 1790.0,995.0 1791.5,995.2 1793.0,995.5 1794.5,995.7 1795.9,995.9 1797.4,996.0 1798.9,996.2 1800.4,996.3 1801.9,996.4 1803.4,996.4 1804.9,996.4 1806.4,996.4 1808.0,996.4 1809.5,996.3 1811.0,996.3 1812.5,996.1 1814.1,996.0" fill="none" stroke="#0000ff" stroke-width="3.9" stroke-linejoin="round" stroke-linecap="butt" clip-path="url(#cF)"/>
<path d="M1334.4,997.7V989.7M1471.2,997.7V989.7M1608.0,997.7V989.7M1744.8,997.7V989.7M1881.6,997.7V989.7M1334.4,949.2H1342.4M1881.6,949.2H1873.6M1334.4,900.7H1342.4M1881.6,900.7H1873.6M1334.4,852.3H1342.4M1881.6,852.3H1873.6M1334.4,803.8H1342.4M1881.6,803.8H1873.6M1334.4,755.3H1342.4M1881.6,755.3H1873.6M1334.4,706.8H1342.4M1881.6,706.8H1873.6M1334.4,658.4H1342.4M1881.6,658.4H1873.6M1334.4,609.9H1342.4M1881.6,609.9H1873.6" stroke="#000" stroke-width="1.6" fill="none"/>
<rect x="1334.4" y="561.4" width="547.2" height="436.3" fill="none" stroke="#222" stroke-width="1.9"/>
<text transform="translate(1334.4,1016.9) scale(0.965,1)" text-anchor="middle" class="t" font-size="22.4">0</text>
<text transform="translate(1471.2,1016.9) scale(0.965,1)" text-anchor="middle" class="t" font-size="22.4">20</text>
<text transform="translate(1608.0,1016.9) scale(0.965,1)" text-anchor="middle" class="t" font-size="22.4">40</text>
<text transform="translate(1744.8,1016.9) scale(0.965,1)" text-anchor="middle" class="t" font-size="22.4">60</text>
<text transform="translate(1881.6,1016.9) scale(0.965,1)" text-anchor="middle" class="t" font-size="22.4">80</text>
<text x="1634.7" y="551.6" text-anchor="middle" class="t" font-size="33.6">Distance</text>
<text transform="translate(1716.6,598.8) scale(1.022,1)" class="t" font-size="29.0">p = 0.14</text>
<text x="1333.2" y="548.0" class="l" font-weight="bold" font-size="33.3">F</text>
</svg></body></html>
